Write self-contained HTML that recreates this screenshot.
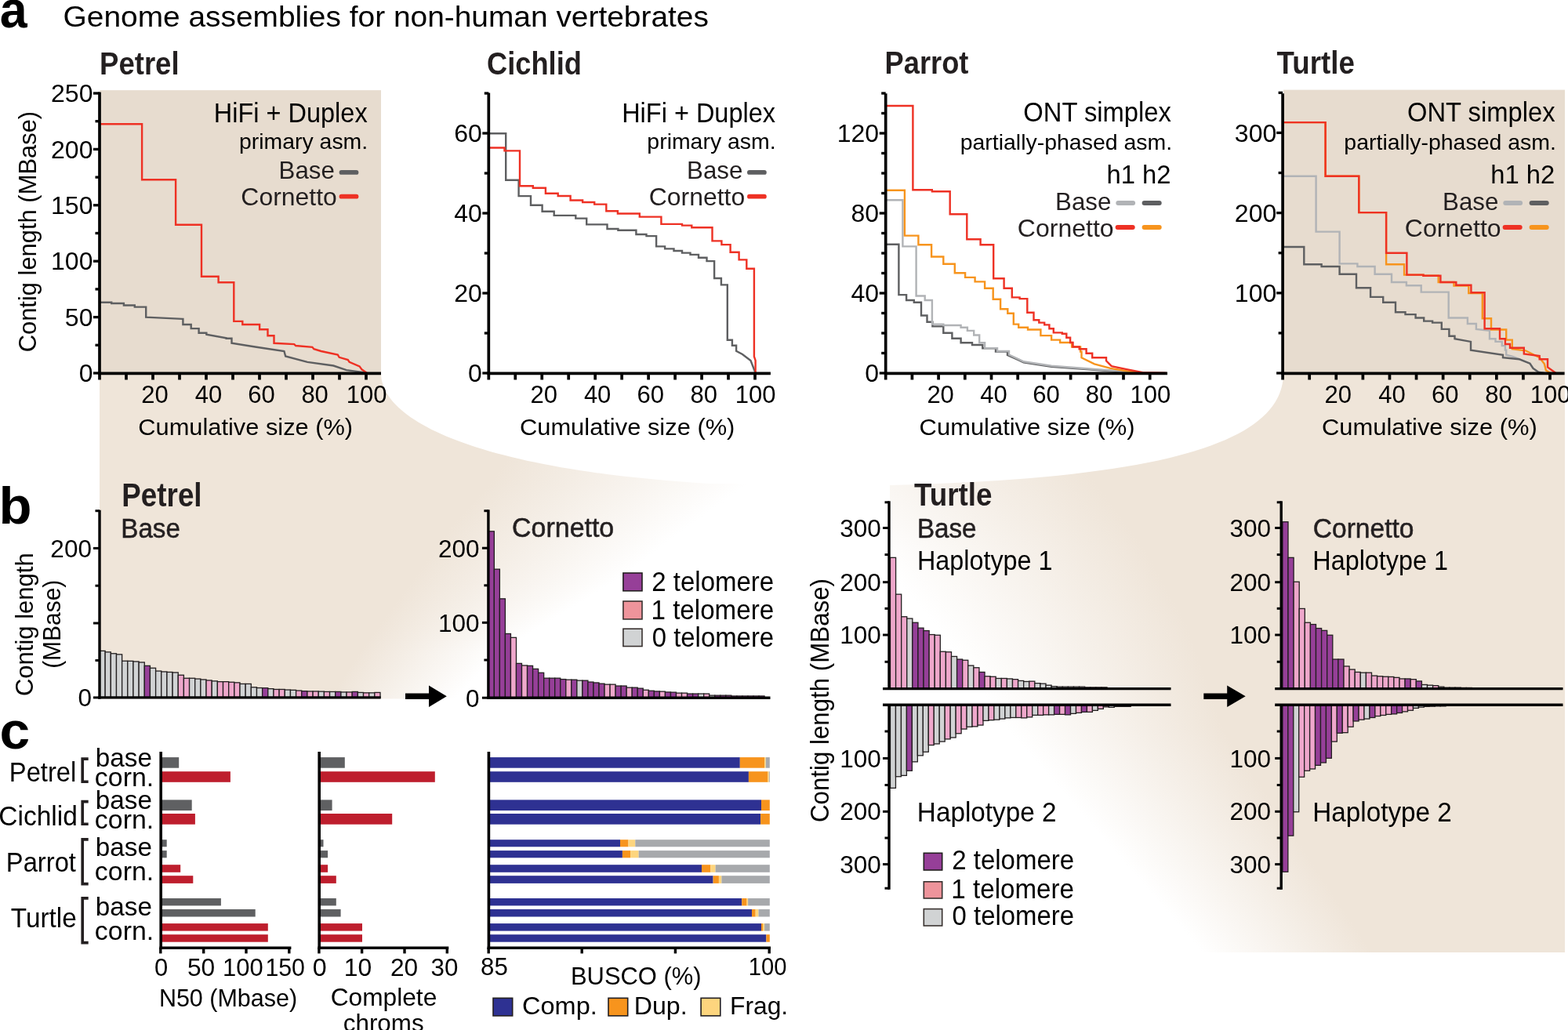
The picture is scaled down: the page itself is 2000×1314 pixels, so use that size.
<!DOCTYPE html>
<html><head><meta charset="utf-8"><title>Genome assemblies for non-human vertebrates</title>
<style>html,body{margin:0;padding:0;background:#fff;}svg{display:block;}</style></head>
<body><svg width="2000" height="1314" viewBox="0 0 2000 1314" font-family="'Liberation Sans', Arial, Helvetica, sans-serif">
<defs><linearGradient id="gL2W" x1="0" y1="0" x2="1" y2="0"><stop offset="0" stop-color="#EFE5D9"/><stop offset="1" stop-color="#EFE5D9" stop-opacity="0"/></linearGradient>
<linearGradient id="gW2L" x1="0" y1="0" x2="1" y2="0"><stop offset="0" stop-color="#EFE5D9" stop-opacity="0"/><stop offset="1" stop-color="#EFE5D9"/></linearGradient>
<clipPath id="cpP"><path d="M127 476H486C486 540 620 600 905 617H1010V891.5H127Z"/></clipPath>
<clipPath id="cpT"><path d="M1996 476H1637C1637 560 1500 610 1135 619V1215H1996Z"/></clipPath></defs>
<g clip-path="url(#cpP)" shape-rendering="crispEdges">
<rect x="127" y="476" width="591.99" height="3" fill="#EFE5D9"/>
<rect x="718.99" y="476" width="379.47" height="3" fill="url(#gL2W)"/>
<rect x="127" y="479" width="589.97" height="3" fill="#EFE5D9"/>
<rect x="716.97" y="479" width="378.4" height="3" fill="url(#gL2W)"/>
<rect x="127" y="482" width="587.95" height="3" fill="#EFE5D9"/>
<rect x="714.95" y="482" width="377.34" height="3" fill="url(#gL2W)"/>
<rect x="127" y="485" width="585.93" height="3" fill="#EFE5D9"/>
<rect x="712.93" y="485" width="376.28" height="3" fill="url(#gL2W)"/>
<rect x="127" y="488" width="583.9" height="3" fill="#EFE5D9"/>
<rect x="710.9" y="488" width="375.21" height="3" fill="url(#gL2W)"/>
<rect x="127" y="491" width="581.88" height="3" fill="#EFE5D9"/>
<rect x="708.88" y="491" width="374.15" height="3" fill="url(#gL2W)"/>
<rect x="127" y="494" width="579.86" height="3" fill="#EFE5D9"/>
<rect x="706.86" y="494" width="373.09" height="3" fill="url(#gL2W)"/>
<rect x="127" y="497" width="577.84" height="3" fill="#EFE5D9"/>
<rect x="704.84" y="497" width="372.02" height="3" fill="url(#gL2W)"/>
<rect x="127" y="500" width="575.82" height="3" fill="#EFE5D9"/>
<rect x="702.82" y="500" width="370.96" height="3" fill="url(#gL2W)"/>
<rect x="127" y="503" width="573.8" height="3" fill="#EFE5D9"/>
<rect x="700.8" y="503" width="369.89" height="3" fill="url(#gL2W)"/>
<rect x="127" y="506" width="571.78" height="3" fill="#EFE5D9"/>
<rect x="698.78" y="506" width="368.83" height="3" fill="url(#gL2W)"/>
<rect x="127" y="509" width="569.76" height="3" fill="#EFE5D9"/>
<rect x="696.76" y="509" width="367.77" height="3" fill="url(#gL2W)"/>
<rect x="127" y="512" width="567.73" height="3" fill="#EFE5D9"/>
<rect x="694.73" y="512" width="366.7" height="3" fill="url(#gL2W)"/>
<rect x="127" y="515" width="565.71" height="3" fill="#EFE5D9"/>
<rect x="692.71" y="515" width="365.64" height="3" fill="url(#gL2W)"/>
<rect x="127" y="518" width="563.69" height="3" fill="#EFE5D9"/>
<rect x="690.69" y="518" width="364.57" height="3" fill="url(#gL2W)"/>
<rect x="127" y="521" width="561.67" height="3" fill="#EFE5D9"/>
<rect x="688.67" y="521" width="363.51" height="3" fill="url(#gL2W)"/>
<rect x="127" y="524" width="559.65" height="3" fill="#EFE5D9"/>
<rect x="686.65" y="524" width="362.45" height="3" fill="url(#gL2W)"/>
<rect x="127" y="527" width="557.63" height="3" fill="#EFE5D9"/>
<rect x="684.63" y="527" width="361.38" height="3" fill="url(#gL2W)"/>
<rect x="127" y="530" width="555.61" height="3" fill="#EFE5D9"/>
<rect x="682.61" y="530" width="360.32" height="3" fill="url(#gL2W)"/>
<rect x="127" y="533" width="553.59" height="3" fill="#EFE5D9"/>
<rect x="680.59" y="533" width="359.26" height="3" fill="url(#gL2W)"/>
<rect x="127" y="536" width="551.56" height="3" fill="#EFE5D9"/>
<rect x="678.56" y="536" width="358.19" height="3" fill="url(#gL2W)"/>
<rect x="127" y="539" width="549.54" height="3" fill="#EFE5D9"/>
<rect x="676.54" y="539" width="357.13" height="3" fill="url(#gL2W)"/>
<rect x="127" y="542" width="547.52" height="3" fill="#EFE5D9"/>
<rect x="674.52" y="542" width="356.06" height="3" fill="url(#gL2W)"/>
<rect x="127" y="545" width="545.5" height="3" fill="#EFE5D9"/>
<rect x="672.5" y="545" width="355" height="3" fill="url(#gL2W)"/>
<rect x="127" y="548" width="543.48" height="3" fill="#EFE5D9"/>
<rect x="670.48" y="548" width="353.94" height="3" fill="url(#gL2W)"/>
<rect x="127" y="551" width="541.46" height="3" fill="#EFE5D9"/>
<rect x="668.46" y="551" width="352.87" height="3" fill="url(#gL2W)"/>
<rect x="127" y="554" width="539.44" height="3" fill="#EFE5D9"/>
<rect x="666.44" y="554" width="351.81" height="3" fill="url(#gL2W)"/>
<rect x="127" y="557" width="537.41" height="3" fill="#EFE5D9"/>
<rect x="664.41" y="557" width="350.74" height="3" fill="url(#gL2W)"/>
<rect x="127" y="560" width="535.39" height="3" fill="#EFE5D9"/>
<rect x="662.39" y="560" width="349.68" height="3" fill="url(#gL2W)"/>
<rect x="127" y="563" width="533.37" height="3" fill="#EFE5D9"/>
<rect x="660.37" y="563" width="348.62" height="3" fill="url(#gL2W)"/>
<rect x="127" y="566" width="531.35" height="3" fill="#EFE5D9"/>
<rect x="658.35" y="566" width="347.55" height="3" fill="url(#gL2W)"/>
<rect x="127" y="569" width="529.33" height="3" fill="#EFE5D9"/>
<rect x="656.33" y="569" width="346.49" height="3" fill="url(#gL2W)"/>
<rect x="127" y="572" width="527.31" height="3" fill="#EFE5D9"/>
<rect x="654.31" y="572" width="345.43" height="3" fill="url(#gL2W)"/>
<rect x="127" y="575" width="525.29" height="3" fill="#EFE5D9"/>
<rect x="652.29" y="575" width="344.36" height="3" fill="url(#gL2W)"/>
<rect x="127" y="578" width="523.27" height="3" fill="#EFE5D9"/>
<rect x="650.27" y="578" width="343.3" height="3" fill="url(#gL2W)"/>
<rect x="127" y="581" width="521.24" height="3" fill="#EFE5D9"/>
<rect x="648.24" y="581" width="342.23" height="3" fill="url(#gL2W)"/>
<rect x="127" y="584" width="519.22" height="3" fill="#EFE5D9"/>
<rect x="646.22" y="584" width="341.17" height="3" fill="url(#gL2W)"/>
<rect x="127" y="587" width="517.2" height="3" fill="#EFE5D9"/>
<rect x="644.2" y="587" width="340.11" height="3" fill="url(#gL2W)"/>
<rect x="127" y="590" width="515.18" height="3" fill="#EFE5D9"/>
<rect x="642.18" y="590" width="339.04" height="3" fill="url(#gL2W)"/>
<rect x="127" y="593" width="513.16" height="3" fill="#EFE5D9"/>
<rect x="640.16" y="593" width="337.98" height="3" fill="url(#gL2W)"/>
<rect x="127" y="596" width="511.14" height="3" fill="#EFE5D9"/>
<rect x="638.14" y="596" width="336.91" height="3" fill="url(#gL2W)"/>
<rect x="127" y="599" width="509.12" height="3" fill="#EFE5D9"/>
<rect x="636.12" y="599" width="335.85" height="3" fill="url(#gL2W)"/>
<rect x="127" y="602" width="507.1" height="3" fill="#EFE5D9"/>
<rect x="634.1" y="602" width="334.79" height="3" fill="url(#gL2W)"/>
<rect x="127" y="605" width="505.07" height="3" fill="#EFE5D9"/>
<rect x="632.07" y="605" width="333.72" height="3" fill="url(#gL2W)"/>
<rect x="127" y="608" width="503.05" height="3" fill="#EFE5D9"/>
<rect x="630.05" y="608" width="332.66" height="3" fill="url(#gL2W)"/>
<rect x="127" y="611" width="501.03" height="3" fill="#EFE5D9"/>
<rect x="628.03" y="611" width="331.6" height="3" fill="url(#gL2W)"/>
<rect x="127" y="614" width="499.01" height="3" fill="#EFE5D9"/>
<rect x="626.01" y="614" width="330.53" height="3" fill="url(#gL2W)"/>
<rect x="127" y="617" width="496.64" height="3" fill="#EFE5D9"/>
<rect x="623.64" y="617" width="329.26" height="3" fill="url(#gL2W)"/>
<rect x="127" y="620" width="493.91" height="3" fill="#EFE5D9"/>
<rect x="620.91" y="620" width="327.79" height="3" fill="url(#gL2W)"/>
<rect x="127" y="623" width="491.18" height="3" fill="#EFE5D9"/>
<rect x="618.18" y="623" width="326.32" height="3" fill="url(#gL2W)"/>
<rect x="127" y="626" width="488.45" height="3" fill="#EFE5D9"/>
<rect x="615.45" y="626" width="324.85" height="3" fill="url(#gL2W)"/>
<rect x="127" y="629" width="485.73" height="3" fill="#EFE5D9"/>
<rect x="612.73" y="629" width="323.37" height="3" fill="url(#gL2W)"/>
<rect x="127" y="632" width="483" height="3" fill="#EFE5D9"/>
<rect x="610" y="632" width="321.9" height="3" fill="url(#gL2W)"/>
<rect x="127" y="635" width="480.27" height="3" fill="#EFE5D9"/>
<rect x="607.27" y="635" width="320.43" height="3" fill="url(#gL2W)"/>
<rect x="127" y="638" width="477.55" height="3" fill="#EFE5D9"/>
<rect x="604.55" y="638" width="318.95" height="3" fill="url(#gL2W)"/>
<rect x="127" y="641" width="474.82" height="3" fill="#EFE5D9"/>
<rect x="601.82" y="641" width="317.48" height="3" fill="url(#gL2W)"/>
<rect x="127" y="644" width="472.09" height="3" fill="#EFE5D9"/>
<rect x="599.09" y="644" width="316.01" height="3" fill="url(#gL2W)"/>
<rect x="127" y="647" width="469.36" height="3" fill="#EFE5D9"/>
<rect x="596.36" y="647" width="314.54" height="3" fill="url(#gL2W)"/>
<rect x="127" y="650" width="466.64" height="3" fill="#EFE5D9"/>
<rect x="593.64" y="650" width="313.06" height="3" fill="url(#gL2W)"/>
<rect x="127" y="653" width="463.91" height="3" fill="#EFE5D9"/>
<rect x="590.91" y="653" width="311.59" height="3" fill="url(#gL2W)"/>
<rect x="127" y="656" width="461.18" height="3" fill="#EFE5D9"/>
<rect x="588.18" y="656" width="310.12" height="3" fill="url(#gL2W)"/>
<rect x="127" y="659" width="458.45" height="3" fill="#EFE5D9"/>
<rect x="585.45" y="659" width="308.65" height="3" fill="url(#gL2W)"/>
<rect x="127" y="662" width="455.73" height="3" fill="#EFE5D9"/>
<rect x="582.73" y="662" width="307.17" height="3" fill="url(#gL2W)"/>
<rect x="127" y="665" width="453" height="3" fill="#EFE5D9"/>
<rect x="580" y="665" width="305.7" height="3" fill="url(#gL2W)"/>
<rect x="127" y="668" width="450.27" height="3" fill="#EFE5D9"/>
<rect x="577.27" y="668" width="304.23" height="3" fill="url(#gL2W)"/>
<rect x="127" y="671" width="447.64" height="3" fill="#EFE5D9"/>
<rect x="574.64" y="671" width="302.7" height="3" fill="url(#gL2W)"/>
<rect x="127" y="674" width="445.5" height="3" fill="#EFE5D9"/>
<rect x="572.5" y="674" width="300.89" height="3" fill="url(#gL2W)"/>
<rect x="127" y="677" width="443.36" height="3" fill="#EFE5D9"/>
<rect x="570.36" y="677" width="299.08" height="3" fill="url(#gL2W)"/>
<rect x="127" y="680" width="441.21" height="3" fill="#EFE5D9"/>
<rect x="568.21" y="680" width="297.27" height="3" fill="url(#gL2W)"/>
<rect x="127" y="683" width="439.07" height="3" fill="#EFE5D9"/>
<rect x="566.07" y="683" width="295.46" height="3" fill="url(#gL2W)"/>
<rect x="127" y="686" width="436.93" height="3" fill="#EFE5D9"/>
<rect x="563.93" y="686" width="293.65" height="3" fill="url(#gL2W)"/>
<rect x="127" y="689" width="434.79" height="3" fill="#EFE5D9"/>
<rect x="561.79" y="689" width="291.84" height="3" fill="url(#gL2W)"/>
<rect x="127" y="692" width="432.64" height="3" fill="#EFE5D9"/>
<rect x="559.64" y="692" width="290.03" height="3" fill="url(#gL2W)"/>
<rect x="127" y="695" width="430.5" height="3" fill="#EFE5D9"/>
<rect x="557.5" y="695" width="288.22" height="3" fill="url(#gL2W)"/>
<rect x="127" y="698" width="428.36" height="3" fill="#EFE5D9"/>
<rect x="555.36" y="698" width="286.41" height="3" fill="url(#gL2W)"/>
<rect x="127" y="701" width="426.21" height="3" fill="#EFE5D9"/>
<rect x="553.21" y="701" width="284.6" height="3" fill="url(#gL2W)"/>
<rect x="127" y="704" width="424.07" height="3" fill="#EFE5D9"/>
<rect x="551.07" y="704" width="282.79" height="3" fill="url(#gL2W)"/>
<rect x="127" y="707" width="421.93" height="3" fill="#EFE5D9"/>
<rect x="548.93" y="707" width="280.98" height="3" fill="url(#gL2W)"/>
<rect x="127" y="710" width="419.79" height="3" fill="#EFE5D9"/>
<rect x="546.79" y="710" width="279.17" height="3" fill="url(#gL2W)"/>
<rect x="127" y="713" width="417.64" height="3" fill="#EFE5D9"/>
<rect x="544.64" y="713" width="277.37" height="3" fill="url(#gL2W)"/>
<rect x="127" y="716" width="415.5" height="3" fill="#EFE5D9"/>
<rect x="542.5" y="716" width="275.56" height="3" fill="url(#gL2W)"/>
<rect x="127" y="719" width="413.36" height="3" fill="#EFE5D9"/>
<rect x="540.36" y="719" width="273.75" height="3" fill="url(#gL2W)"/>
<rect x="127" y="722" width="411.21" height="3" fill="#EFE5D9"/>
<rect x="538.21" y="722" width="271.94" height="3" fill="url(#gL2W)"/>
<rect x="127" y="725" width="409.07" height="3" fill="#EFE5D9"/>
<rect x="536.07" y="725" width="270.13" height="3" fill="url(#gL2W)"/>
<rect x="127" y="728" width="406.93" height="3" fill="#EFE5D9"/>
<rect x="533.93" y="728" width="268.32" height="3" fill="url(#gL2W)"/>
<rect x="127" y="731" width="404.79" height="3" fill="#EFE5D9"/>
<rect x="531.79" y="731" width="266.51" height="3" fill="url(#gL2W)"/>
<rect x="127" y="734" width="402.63" height="3" fill="#EFE5D9"/>
<rect x="529.63" y="734" width="264.55" height="3" fill="url(#gL2W)"/>
<rect x="127" y="737" width="400.42" height="3" fill="#EFE5D9"/>
<rect x="527.42" y="737" width="261.87" height="3" fill="url(#gL2W)"/>
<rect x="127" y="740" width="398.21" height="3" fill="#EFE5D9"/>
<rect x="525.21" y="740" width="259.18" height="3" fill="url(#gL2W)"/>
<rect x="127" y="743" width="396" height="3" fill="#EFE5D9"/>
<rect x="523" y="743" width="256.5" height="3" fill="url(#gL2W)"/>
<rect x="127" y="746" width="393.79" height="3" fill="#EFE5D9"/>
<rect x="520.79" y="746" width="253.82" height="3" fill="url(#gL2W)"/>
<rect x="127" y="749" width="391.58" height="3" fill="#EFE5D9"/>
<rect x="518.58" y="749" width="251.13" height="3" fill="url(#gL2W)"/>
<rect x="127" y="752" width="389.37" height="3" fill="#EFE5D9"/>
<rect x="516.37" y="752" width="248.45" height="3" fill="url(#gL2W)"/>
<rect x="127" y="755" width="387.16" height="3" fill="#EFE5D9"/>
<rect x="514.16" y="755" width="245.76" height="3" fill="url(#gL2W)"/>
<rect x="127" y="758" width="384.95" height="3" fill="#EFE5D9"/>
<rect x="511.95" y="758" width="243.08" height="3" fill="url(#gL2W)"/>
<rect x="127" y="761" width="382.74" height="3" fill="#EFE5D9"/>
<rect x="509.74" y="761" width="240.39" height="3" fill="url(#gL2W)"/>
<rect x="127" y="764" width="380.53" height="3" fill="#EFE5D9"/>
<rect x="507.53" y="764" width="237.71" height="3" fill="url(#gL2W)"/>
<rect x="127" y="767" width="378.32" height="3" fill="#EFE5D9"/>
<rect x="505.32" y="767" width="235.03" height="3" fill="url(#gL2W)"/>
<rect x="127" y="770" width="376.11" height="3" fill="#EFE5D9"/>
<rect x="503.11" y="770" width="232.34" height="3" fill="url(#gL2W)"/>
<rect x="127" y="773" width="373.89" height="3" fill="#EFE5D9"/>
<rect x="500.89" y="773" width="229.66" height="3" fill="url(#gL2W)"/>
<rect x="127" y="776" width="371.68" height="3" fill="#EFE5D9"/>
<rect x="498.68" y="776" width="226.97" height="3" fill="url(#gL2W)"/>
<rect x="127" y="779" width="369.47" height="3" fill="#EFE5D9"/>
<rect x="496.47" y="779" width="224.29" height="3" fill="url(#gL2W)"/>
<rect x="127" y="782" width="367.26" height="3" fill="#EFE5D9"/>
<rect x="494.26" y="782" width="221.61" height="3" fill="url(#gL2W)"/>
<rect x="127" y="785" width="365.05" height="3" fill="#EFE5D9"/>
<rect x="492.05" y="785" width="218.92" height="3" fill="url(#gL2W)"/>
<rect x="127" y="788" width="362.84" height="3" fill="#EFE5D9"/>
<rect x="489.84" y="788" width="216.24" height="3" fill="url(#gL2W)"/>
<rect x="127" y="791" width="360.63" height="3" fill="#EFE5D9"/>
<rect x="487.63" y="791" width="213.55" height="3" fill="url(#gL2W)"/>
<rect x="127" y="794" width="358.42" height="3" fill="#EFE5D9"/>
<rect x="485.42" y="794" width="210.87" height="3" fill="url(#gL2W)"/>
<rect x="127" y="797" width="356.21" height="3" fill="#EFE5D9"/>
<rect x="483.21" y="797" width="208.18" height="3" fill="url(#gL2W)"/>
<rect x="127" y="800" width="354" height="3" fill="#EFE5D9"/>
<rect x="481" y="800" width="205.5" height="3" fill="url(#gL2W)"/>
<rect x="127" y="803" width="351.79" height="3" fill="#EFE5D9"/>
<rect x="478.79" y="803" width="202.82" height="3" fill="url(#gL2W)"/>
<rect x="127" y="806" width="349.58" height="3" fill="#EFE5D9"/>
<rect x="476.58" y="806" width="200.13" height="3" fill="url(#gL2W)"/>
<rect x="127" y="809" width="347.37" height="3" fill="#EFE5D9"/>
<rect x="474.37" y="809" width="197.45" height="3" fill="url(#gL2W)"/>
<rect x="127" y="812" width="345.16" height="3" fill="#EFE5D9"/>
<rect x="472.16" y="812" width="194.76" height="3" fill="url(#gL2W)"/>
<rect x="127" y="815" width="342.95" height="3" fill="#EFE5D9"/>
<rect x="469.95" y="815" width="192.08" height="3" fill="url(#gL2W)"/>
<rect x="127" y="818" width="340.74" height="3" fill="#EFE5D9"/>
<rect x="467.74" y="818" width="189.39" height="3" fill="url(#gL2W)"/>
<rect x="127" y="821" width="338.53" height="3" fill="#EFE5D9"/>
<rect x="465.53" y="821" width="186.71" height="3" fill="url(#gL2W)"/>
<rect x="127" y="824" width="336.32" height="3" fill="#EFE5D9"/>
<rect x="463.32" y="824" width="184.03" height="3" fill="url(#gL2W)"/>
<rect x="127" y="827" width="334.11" height="3" fill="#EFE5D9"/>
<rect x="461.11" y="827" width="181.34" height="3" fill="url(#gL2W)"/>
<rect x="127" y="830" width="332.03" height="3" fill="#EFE5D9"/>
<rect x="459.03" y="830" width="179.52" height="3" fill="url(#gL2W)"/>
<rect x="127" y="833" width="330.1" height="3" fill="#EFE5D9"/>
<rect x="457.1" y="833" width="178.55" height="3" fill="url(#gL2W)"/>
<rect x="127" y="836" width="328.16" height="3" fill="#EFE5D9"/>
<rect x="455.16" y="836" width="177.58" height="3" fill="url(#gL2W)"/>
<rect x="127" y="839" width="326.23" height="3" fill="#EFE5D9"/>
<rect x="453.23" y="839" width="176.61" height="3" fill="url(#gL2W)"/>
<rect x="127" y="842" width="324.29" height="3" fill="#EFE5D9"/>
<rect x="451.29" y="842" width="175.65" height="3" fill="url(#gL2W)"/>
<rect x="127" y="845" width="322.35" height="3" fill="#EFE5D9"/>
<rect x="449.35" y="845" width="174.68" height="3" fill="url(#gL2W)"/>
<rect x="127" y="848" width="320.42" height="3" fill="#EFE5D9"/>
<rect x="447.42" y="848" width="173.71" height="3" fill="url(#gL2W)"/>
<rect x="127" y="851" width="318.48" height="3" fill="#EFE5D9"/>
<rect x="445.48" y="851" width="172.74" height="3" fill="url(#gL2W)"/>
<rect x="127" y="854" width="316.55" height="3" fill="#EFE5D9"/>
<rect x="443.55" y="854" width="171.77" height="3" fill="url(#gL2W)"/>
<rect x="127" y="857" width="314.61" height="3" fill="#EFE5D9"/>
<rect x="441.61" y="857" width="170.81" height="3" fill="url(#gL2W)"/>
<rect x="127" y="860" width="312.68" height="3" fill="#EFE5D9"/>
<rect x="439.68" y="860" width="169.84" height="3" fill="url(#gL2W)"/>
<rect x="127" y="863" width="310.74" height="3" fill="#EFE5D9"/>
<rect x="437.74" y="863" width="168.87" height="3" fill="url(#gL2W)"/>
<rect x="127" y="866" width="308.81" height="3" fill="#EFE5D9"/>
<rect x="435.81" y="866" width="167.9" height="3" fill="url(#gL2W)"/>
<rect x="127" y="869" width="306.87" height="3" fill="#EFE5D9"/>
<rect x="433.87" y="869" width="166.94" height="3" fill="url(#gL2W)"/>
<rect x="127" y="872" width="304.94" height="3" fill="#EFE5D9"/>
<rect x="431.94" y="872" width="165.97" height="3" fill="url(#gL2W)"/>
<rect x="127" y="875" width="303" height="3" fill="#EFE5D9"/>
<rect x="430" y="875" width="165" height="3" fill="url(#gL2W)"/>
<rect x="127" y="878" width="301.06" height="3" fill="#EFE5D9"/>
<rect x="428.06" y="878" width="164.03" height="3" fill="url(#gL2W)"/>
<rect x="127" y="881" width="299.13" height="3" fill="#EFE5D9"/>
<rect x="426.13" y="881" width="163.06" height="3" fill="url(#gL2W)"/>
<rect x="127" y="884" width="297.19" height="3" fill="#EFE5D9"/>
<rect x="424.19" y="884" width="162.1" height="3" fill="url(#gL2W)"/>
<rect x="127" y="887" width="295.26" height="3" fill="#EFE5D9"/>
<rect x="422.26" y="887" width="161.13" height="3" fill="url(#gL2W)"/>
<rect x="127" y="890" width="293.32" height="3" fill="#EFE5D9"/>
<rect x="420.32" y="890" width="160.16" height="3" fill="url(#gL2W)"/>
</g>
<g clip-path="url(#cpT)" shape-rendering="crispEdges">
<rect x="901.05" y="476" width="400" height="3" fill="url(#gW2L)"/>
<rect x="1301.05" y="476" width="694.95" height="3" fill="#EFE5D9"/>
<rect x="903.15" y="479" width="400" height="3" fill="url(#gW2L)"/>
<rect x="1303.15" y="479" width="692.85" height="3" fill="#EFE5D9"/>
<rect x="905.24" y="482" width="400" height="3" fill="url(#gW2L)"/>
<rect x="1305.24" y="482" width="690.76" height="3" fill="#EFE5D9"/>
<rect x="907.34" y="485" width="400" height="3" fill="url(#gW2L)"/>
<rect x="1307.34" y="485" width="688.66" height="3" fill="#EFE5D9"/>
<rect x="909.44" y="488" width="400" height="3" fill="url(#gW2L)"/>
<rect x="1309.44" y="488" width="686.56" height="3" fill="#EFE5D9"/>
<rect x="911.54" y="491" width="400" height="3" fill="url(#gW2L)"/>
<rect x="1311.54" y="491" width="684.46" height="3" fill="#EFE5D9"/>
<rect x="913.64" y="494" width="400" height="3" fill="url(#gW2L)"/>
<rect x="1313.64" y="494" width="682.36" height="3" fill="#EFE5D9"/>
<rect x="915.73" y="497" width="400" height="3" fill="url(#gW2L)"/>
<rect x="1315.73" y="497" width="680.27" height="3" fill="#EFE5D9"/>
<rect x="917.83" y="500" width="400" height="3" fill="url(#gW2L)"/>
<rect x="1317.83" y="500" width="678.17" height="3" fill="#EFE5D9"/>
<rect x="919.93" y="503" width="400" height="3" fill="url(#gW2L)"/>
<rect x="1319.93" y="503" width="676.07" height="3" fill="#EFE5D9"/>
<rect x="922.03" y="506" width="400" height="3" fill="url(#gW2L)"/>
<rect x="1322.03" y="506" width="673.97" height="3" fill="#EFE5D9"/>
<rect x="924.13" y="509" width="400" height="3" fill="url(#gW2L)"/>
<rect x="1324.13" y="509" width="671.87" height="3" fill="#EFE5D9"/>
<rect x="926.22" y="512" width="400" height="3" fill="url(#gW2L)"/>
<rect x="1326.22" y="512" width="669.78" height="3" fill="#EFE5D9"/>
<rect x="928.32" y="515" width="400" height="3" fill="url(#gW2L)"/>
<rect x="1328.32" y="515" width="667.68" height="3" fill="#EFE5D9"/>
<rect x="930.42" y="518" width="400" height="3" fill="url(#gW2L)"/>
<rect x="1330.42" y="518" width="665.58" height="3" fill="#EFE5D9"/>
<rect x="932.52" y="521" width="400" height="3" fill="url(#gW2L)"/>
<rect x="1332.52" y="521" width="663.48" height="3" fill="#EFE5D9"/>
<rect x="934.62" y="524" width="400" height="3" fill="url(#gW2L)"/>
<rect x="1334.62" y="524" width="661.38" height="3" fill="#EFE5D9"/>
<rect x="936.71" y="527" width="400" height="3" fill="url(#gW2L)"/>
<rect x="1336.71" y="527" width="659.29" height="3" fill="#EFE5D9"/>
<rect x="938.81" y="530" width="400" height="3" fill="url(#gW2L)"/>
<rect x="1338.81" y="530" width="657.19" height="3" fill="#EFE5D9"/>
<rect x="940.91" y="533" width="400" height="3" fill="url(#gW2L)"/>
<rect x="1340.91" y="533" width="655.09" height="3" fill="#EFE5D9"/>
<rect x="943.01" y="536" width="400" height="3" fill="url(#gW2L)"/>
<rect x="1343.01" y="536" width="652.99" height="3" fill="#EFE5D9"/>
<rect x="945.1" y="539" width="400" height="3" fill="url(#gW2L)"/>
<rect x="1345.1" y="539" width="650.9" height="3" fill="#EFE5D9"/>
<rect x="947.2" y="542" width="400" height="3" fill="url(#gW2L)"/>
<rect x="1347.2" y="542" width="648.8" height="3" fill="#EFE5D9"/>
<rect x="949.3" y="545" width="400" height="3" fill="url(#gW2L)"/>
<rect x="1349.3" y="545" width="646.7" height="3" fill="#EFE5D9"/>
<rect x="951.4" y="548" width="400" height="3" fill="url(#gW2L)"/>
<rect x="1351.4" y="548" width="644.6" height="3" fill="#EFE5D9"/>
<rect x="953.5" y="551" width="400" height="3" fill="url(#gW2L)"/>
<rect x="1353.5" y="551" width="642.5" height="3" fill="#EFE5D9"/>
<rect x="955.59" y="554" width="400" height="3" fill="url(#gW2L)"/>
<rect x="1355.59" y="554" width="640.41" height="3" fill="#EFE5D9"/>
<rect x="957.69" y="557" width="400" height="3" fill="url(#gW2L)"/>
<rect x="1357.69" y="557" width="638.31" height="3" fill="#EFE5D9"/>
<rect x="959.79" y="560" width="400" height="3" fill="url(#gW2L)"/>
<rect x="1359.79" y="560" width="636.21" height="3" fill="#EFE5D9"/>
<rect x="961.89" y="563" width="400" height="3" fill="url(#gW2L)"/>
<rect x="1361.89" y="563" width="634.11" height="3" fill="#EFE5D9"/>
<rect x="963.99" y="566" width="400" height="3" fill="url(#gW2L)"/>
<rect x="1363.99" y="566" width="632.01" height="3" fill="#EFE5D9"/>
<rect x="966.08" y="569" width="400" height="3" fill="url(#gW2L)"/>
<rect x="1366.08" y="569" width="629.92" height="3" fill="#EFE5D9"/>
<rect x="968.18" y="572" width="400" height="3" fill="url(#gW2L)"/>
<rect x="1368.18" y="572" width="627.82" height="3" fill="#EFE5D9"/>
<rect x="970.28" y="575" width="400" height="3" fill="url(#gW2L)"/>
<rect x="1370.28" y="575" width="625.72" height="3" fill="#EFE5D9"/>
<rect x="972.38" y="578" width="400" height="3" fill="url(#gW2L)"/>
<rect x="1372.38" y="578" width="623.62" height="3" fill="#EFE5D9"/>
<rect x="974.48" y="581" width="400" height="3" fill="url(#gW2L)"/>
<rect x="1374.48" y="581" width="621.52" height="3" fill="#EFE5D9"/>
<rect x="976.57" y="584" width="400" height="3" fill="url(#gW2L)"/>
<rect x="1376.57" y="584" width="619.43" height="3" fill="#EFE5D9"/>
<rect x="978.67" y="587" width="400" height="3" fill="url(#gW2L)"/>
<rect x="1378.67" y="587" width="617.33" height="3" fill="#EFE5D9"/>
<rect x="980.77" y="590" width="400" height="3" fill="url(#gW2L)"/>
<rect x="1380.77" y="590" width="615.23" height="3" fill="#EFE5D9"/>
<rect x="982.87" y="593" width="400" height="3" fill="url(#gW2L)"/>
<rect x="1382.87" y="593" width="613.13" height="3" fill="#EFE5D9"/>
<rect x="984.97" y="596" width="400" height="3" fill="url(#gW2L)"/>
<rect x="1384.97" y="596" width="611.03" height="3" fill="#EFE5D9"/>
<rect x="987.06" y="599" width="400" height="3" fill="url(#gW2L)"/>
<rect x="1387.06" y="599" width="608.94" height="3" fill="#EFE5D9"/>
<rect x="989.16" y="602" width="400" height="3" fill="url(#gW2L)"/>
<rect x="1389.16" y="602" width="606.84" height="3" fill="#EFE5D9"/>
<rect x="991.26" y="605" width="400" height="3" fill="url(#gW2L)"/>
<rect x="1391.26" y="605" width="604.74" height="3" fill="#EFE5D9"/>
<rect x="993.36" y="608" width="400" height="3" fill="url(#gW2L)"/>
<rect x="1393.36" y="608" width="602.64" height="3" fill="#EFE5D9"/>
<rect x="995.45" y="611" width="400" height="3" fill="url(#gW2L)"/>
<rect x="1395.45" y="611" width="600.55" height="3" fill="#EFE5D9"/>
<rect x="997.55" y="614" width="400" height="3" fill="url(#gW2L)"/>
<rect x="1397.55" y="614" width="598.45" height="3" fill="#EFE5D9"/>
<rect x="999.65" y="617" width="400" height="3" fill="url(#gW2L)"/>
<rect x="1399.65" y="617" width="596.35" height="3" fill="#EFE5D9"/>
<rect x="1003.4" y="620" width="398.46" height="3" fill="url(#gW2L)"/>
<rect x="1401.85" y="620" width="594.15" height="3" fill="#EFE5D9"/>
<rect x="1007.47" y="623" width="396.6" height="3" fill="url(#gW2L)"/>
<rect x="1404.07" y="623" width="591.93" height="3" fill="#EFE5D9"/>
<rect x="1011.54" y="626" width="394.75" height="3" fill="url(#gW2L)"/>
<rect x="1406.3" y="626" width="589.7" height="3" fill="#EFE5D9"/>
<rect x="1015.62" y="629" width="392.9" height="3" fill="url(#gW2L)"/>
<rect x="1408.52" y="629" width="587.48" height="3" fill="#EFE5D9"/>
<rect x="1019.69" y="632" width="391.05" height="3" fill="url(#gW2L)"/>
<rect x="1410.74" y="632" width="585.26" height="3" fill="#EFE5D9"/>
<rect x="1023.77" y="635" width="389.2" height="3" fill="url(#gW2L)"/>
<rect x="1412.96" y="635" width="583.04" height="3" fill="#EFE5D9"/>
<rect x="1027.84" y="638" width="387.35" height="3" fill="url(#gW2L)"/>
<rect x="1415.19" y="638" width="580.81" height="3" fill="#EFE5D9"/>
<rect x="1031.91" y="641" width="385.49" height="3" fill="url(#gW2L)"/>
<rect x="1417.41" y="641" width="578.59" height="3" fill="#EFE5D9"/>
<rect x="1035.99" y="644" width="383.64" height="3" fill="url(#gW2L)"/>
<rect x="1419.63" y="644" width="576.37" height="3" fill="#EFE5D9"/>
<rect x="1040.06" y="647" width="381.79" height="3" fill="url(#gW2L)"/>
<rect x="1421.85" y="647" width="574.15" height="3" fill="#EFE5D9"/>
<rect x="1044.14" y="650" width="379.94" height="3" fill="url(#gW2L)"/>
<rect x="1424.07" y="650" width="571.93" height="3" fill="#EFE5D9"/>
<rect x="1048.21" y="653" width="378.09" height="3" fill="url(#gW2L)"/>
<rect x="1426.3" y="653" width="569.7" height="3" fill="#EFE5D9"/>
<rect x="1052.28" y="656" width="376.23" height="3" fill="url(#gW2L)"/>
<rect x="1428.52" y="656" width="567.48" height="3" fill="#EFE5D9"/>
<rect x="1056.36" y="659" width="374.38" height="3" fill="url(#gW2L)"/>
<rect x="1430.74" y="659" width="565.26" height="3" fill="#EFE5D9"/>
<rect x="1060.43" y="662" width="372.53" height="3" fill="url(#gW2L)"/>
<rect x="1432.96" y="662" width="563.04" height="3" fill="#EFE5D9"/>
<rect x="1064.51" y="665" width="370.68" height="3" fill="url(#gW2L)"/>
<rect x="1435.19" y="665" width="560.81" height="3" fill="#EFE5D9"/>
<rect x="1068.58" y="668" width="368.83" height="3" fill="url(#gW2L)"/>
<rect x="1437.41" y="668" width="558.59" height="3" fill="#EFE5D9"/>
<rect x="1072.65" y="671" width="366.98" height="3" fill="url(#gW2L)"/>
<rect x="1439.63" y="671" width="556.37" height="3" fill="#EFE5D9"/>
<rect x="1076.73" y="674" width="365.12" height="3" fill="url(#gW2L)"/>
<rect x="1441.85" y="674" width="554.15" height="3" fill="#EFE5D9"/>
<rect x="1080.8" y="677" width="363.27" height="3" fill="url(#gW2L)"/>
<rect x="1444.07" y="677" width="551.93" height="3" fill="#EFE5D9"/>
<rect x="1084.88" y="680" width="361.42" height="3" fill="url(#gW2L)"/>
<rect x="1446.3" y="680" width="549.7" height="3" fill="#EFE5D9"/>
<rect x="1088.95" y="683" width="359.57" height="3" fill="url(#gW2L)"/>
<rect x="1448.52" y="683" width="547.48" height="3" fill="#EFE5D9"/>
<rect x="1093.02" y="686" width="357.72" height="3" fill="url(#gW2L)"/>
<rect x="1450.74" y="686" width="545.26" height="3" fill="#EFE5D9"/>
<rect x="1097.1" y="689" width="355.86" height="3" fill="url(#gW2L)"/>
<rect x="1452.96" y="689" width="543.04" height="3" fill="#EFE5D9"/>
<rect x="1101.17" y="692" width="354.01" height="3" fill="url(#gW2L)"/>
<rect x="1455.19" y="692" width="540.81" height="3" fill="#EFE5D9"/>
<rect x="1105.25" y="695" width="352.16" height="3" fill="url(#gW2L)"/>
<rect x="1457.41" y="695" width="538.59" height="3" fill="#EFE5D9"/>
<rect x="1109.32" y="698" width="350.31" height="3" fill="url(#gW2L)"/>
<rect x="1459.63" y="698" width="536.37" height="3" fill="#EFE5D9"/>
<rect x="1112.12" y="701" width="349.25" height="3" fill="url(#gW2L)"/>
<rect x="1461.38" y="701" width="534.62" height="3" fill="#EFE5D9"/>
<rect x="1114.67" y="704" width="348.35" height="3" fill="url(#gW2L)"/>
<rect x="1463.03" y="704" width="532.97" height="3" fill="#EFE5D9"/>
<rect x="1117.22" y="707" width="347.45" height="3" fill="url(#gW2L)"/>
<rect x="1464.67" y="707" width="531.33" height="3" fill="#EFE5D9"/>
<rect x="1119.78" y="710" width="346.55" height="3" fill="url(#gW2L)"/>
<rect x="1466.33" y="710" width="529.67" height="3" fill="#EFE5D9"/>
<rect x="1122.33" y="713" width="345.65" height="3" fill="url(#gW2L)"/>
<rect x="1467.97" y="713" width="528.03" height="3" fill="#EFE5D9"/>
<rect x="1124.88" y="716" width="344.75" height="3" fill="url(#gW2L)"/>
<rect x="1469.62" y="716" width="526.38" height="3" fill="#EFE5D9"/>
<rect x="1127.42" y="719" width="343.85" height="3" fill="url(#gW2L)"/>
<rect x="1471.28" y="719" width="524.72" height="3" fill="#EFE5D9"/>
<rect x="1129.97" y="722" width="342.95" height="3" fill="url(#gW2L)"/>
<rect x="1472.92" y="722" width="523.08" height="3" fill="#EFE5D9"/>
<rect x="1132.53" y="725" width="342.05" height="3" fill="url(#gW2L)"/>
<rect x="1474.58" y="725" width="521.42" height="3" fill="#EFE5D9"/>
<rect x="1135.08" y="728" width="341.15" height="3" fill="url(#gW2L)"/>
<rect x="1476.22" y="728" width="519.78" height="3" fill="#EFE5D9"/>
<rect x="1137.62" y="731" width="340.25" height="3" fill="url(#gW2L)"/>
<rect x="1477.88" y="731" width="518.12" height="3" fill="#EFE5D9"/>
<rect x="1140.17" y="734" width="339.35" height="3" fill="url(#gW2L)"/>
<rect x="1479.53" y="734" width="516.47" height="3" fill="#EFE5D9"/>
<rect x="1142.72" y="737" width="338.45" height="3" fill="url(#gW2L)"/>
<rect x="1481.17" y="737" width="514.83" height="3" fill="#EFE5D9"/>
<rect x="1145.28" y="740" width="337.55" height="3" fill="url(#gW2L)"/>
<rect x="1482.83" y="740" width="513.17" height="3" fill="#EFE5D9"/>
<rect x="1147.83" y="743" width="336.65" height="3" fill="url(#gW2L)"/>
<rect x="1484.47" y="743" width="511.53" height="3" fill="#EFE5D9"/>
<rect x="1150.38" y="746" width="335.75" height="3" fill="url(#gW2L)"/>
<rect x="1486.12" y="746" width="509.88" height="3" fill="#EFE5D9"/>
<rect x="1152.92" y="749" width="334.85" height="3" fill="url(#gW2L)"/>
<rect x="1487.78" y="749" width="508.22" height="3" fill="#EFE5D9"/>
<rect x="1155.47" y="752" width="333.95" height="3" fill="url(#gW2L)"/>
<rect x="1489.42" y="752" width="506.58" height="3" fill="#EFE5D9"/>
<rect x="1158.03" y="755" width="333.05" height="3" fill="url(#gW2L)"/>
<rect x="1491.08" y="755" width="504.92" height="3" fill="#EFE5D9"/>
<rect x="1160.58" y="758" width="332.15" height="3" fill="url(#gW2L)"/>
<rect x="1492.72" y="758" width="503.28" height="3" fill="#EFE5D9"/>
<rect x="1163.12" y="761" width="331.25" height="3" fill="url(#gW2L)"/>
<rect x="1494.38" y="761" width="501.62" height="3" fill="#EFE5D9"/>
<rect x="1165.67" y="764" width="330.35" height="3" fill="url(#gW2L)"/>
<rect x="1496.03" y="764" width="499.97" height="3" fill="#EFE5D9"/>
<rect x="1168.22" y="767" width="329.45" height="3" fill="url(#gW2L)"/>
<rect x="1497.67" y="767" width="498.33" height="3" fill="#EFE5D9"/>
<rect x="1170.78" y="770" width="328.55" height="3" fill="url(#gW2L)"/>
<rect x="1499.33" y="770" width="496.67" height="3" fill="#EFE5D9"/>
<rect x="1173.33" y="773" width="327.65" height="3" fill="url(#gW2L)"/>
<rect x="1500.97" y="773" width="495.03" height="3" fill="#EFE5D9"/>
<rect x="1175.88" y="776" width="326.75" height="3" fill="url(#gW2L)"/>
<rect x="1502.62" y="776" width="493.38" height="3" fill="#EFE5D9"/>
<rect x="1178.42" y="779" width="325.85" height="3" fill="url(#gW2L)"/>
<rect x="1504.28" y="779" width="491.72" height="3" fill="#EFE5D9"/>
<rect x="1180.97" y="782" width="324.95" height="3" fill="url(#gW2L)"/>
<rect x="1505.92" y="782" width="490.08" height="3" fill="#EFE5D9"/>
<rect x="1183.53" y="785" width="324.05" height="3" fill="url(#gW2L)"/>
<rect x="1507.58" y="785" width="488.42" height="3" fill="#EFE5D9"/>
<rect x="1186.08" y="788" width="323.15" height="3" fill="url(#gW2L)"/>
<rect x="1509.22" y="788" width="486.78" height="3" fill="#EFE5D9"/>
<rect x="1188.62" y="791" width="322.25" height="3" fill="url(#gW2L)"/>
<rect x="1510.88" y="791" width="485.12" height="3" fill="#EFE5D9"/>
<rect x="1191.17" y="794" width="321.35" height="3" fill="url(#gW2L)"/>
<rect x="1512.53" y="794" width="483.47" height="3" fill="#EFE5D9"/>
<rect x="1193.72" y="797" width="320.45" height="3" fill="url(#gW2L)"/>
<rect x="1514.17" y="797" width="481.83" height="3" fill="#EFE5D9"/>
<rect x="1196.04" y="800" width="319.48" height="3" fill="url(#gW2L)"/>
<rect x="1515.52" y="800" width="480.48" height="3" fill="#EFE5D9"/>
<rect x="1198.12" y="803" width="318.44" height="3" fill="url(#gW2L)"/>
<rect x="1516.56" y="803" width="479.44" height="3" fill="#EFE5D9"/>
<rect x="1200.19" y="806" width="317.4" height="3" fill="url(#gW2L)"/>
<rect x="1517.6" y="806" width="478.4" height="3" fill="#EFE5D9"/>
<rect x="1202.27" y="809" width="316.37" height="3" fill="url(#gW2L)"/>
<rect x="1518.63" y="809" width="477.37" height="3" fill="#EFE5D9"/>
<rect x="1204.35" y="812" width="315.33" height="3" fill="url(#gW2L)"/>
<rect x="1519.67" y="812" width="476.33" height="3" fill="#EFE5D9"/>
<rect x="1206.42" y="815" width="314.29" height="3" fill="url(#gW2L)"/>
<rect x="1520.71" y="815" width="475.29" height="3" fill="#EFE5D9"/>
<rect x="1208.5" y="818" width="313.25" height="3" fill="url(#gW2L)"/>
<rect x="1521.75" y="818" width="474.25" height="3" fill="#EFE5D9"/>
<rect x="1210.58" y="821" width="312.21" height="3" fill="url(#gW2L)"/>
<rect x="1522.79" y="821" width="473.21" height="3" fill="#EFE5D9"/>
<rect x="1212.65" y="824" width="311.17" height="3" fill="url(#gW2L)"/>
<rect x="1523.83" y="824" width="472.17" height="3" fill="#EFE5D9"/>
<rect x="1214.73" y="827" width="310.13" height="3" fill="url(#gW2L)"/>
<rect x="1524.87" y="827" width="471.13" height="3" fill="#EFE5D9"/>
<rect x="1216.81" y="830" width="309.1" height="3" fill="url(#gW2L)"/>
<rect x="1525.9" y="830" width="470.1" height="3" fill="#EFE5D9"/>
<rect x="1218.88" y="833" width="308.06" height="3" fill="url(#gW2L)"/>
<rect x="1526.94" y="833" width="469.06" height="3" fill="#EFE5D9"/>
<rect x="1220.96" y="836" width="307.02" height="3" fill="url(#gW2L)"/>
<rect x="1527.98" y="836" width="468.02" height="3" fill="#EFE5D9"/>
<rect x="1223.04" y="839" width="305.98" height="3" fill="url(#gW2L)"/>
<rect x="1529.02" y="839" width="466.98" height="3" fill="#EFE5D9"/>
<rect x="1225.12" y="842" width="304.94" height="3" fill="url(#gW2L)"/>
<rect x="1530.06" y="842" width="465.94" height="3" fill="#EFE5D9"/>
<rect x="1227.19" y="845" width="303.9" height="3" fill="url(#gW2L)"/>
<rect x="1531.1" y="845" width="464.9" height="3" fill="#EFE5D9"/>
<rect x="1229.27" y="848" width="302.87" height="3" fill="url(#gW2L)"/>
<rect x="1532.13" y="848" width="463.87" height="3" fill="#EFE5D9"/>
<rect x="1231.35" y="851" width="301.83" height="3" fill="url(#gW2L)"/>
<rect x="1533.17" y="851" width="462.83" height="3" fill="#EFE5D9"/>
<rect x="1233.42" y="854" width="300.79" height="3" fill="url(#gW2L)"/>
<rect x="1534.21" y="854" width="461.79" height="3" fill="#EFE5D9"/>
<rect x="1235.5" y="857" width="299.75" height="3" fill="url(#gW2L)"/>
<rect x="1535.25" y="857" width="460.75" height="3" fill="#EFE5D9"/>
<rect x="1237.58" y="860" width="298.71" height="3" fill="url(#gW2L)"/>
<rect x="1536.29" y="860" width="459.71" height="3" fill="#EFE5D9"/>
<rect x="1239.65" y="863" width="297.67" height="3" fill="url(#gW2L)"/>
<rect x="1537.33" y="863" width="458.67" height="3" fill="#EFE5D9"/>
<rect x="1241.73" y="866" width="296.63" height="3" fill="url(#gW2L)"/>
<rect x="1538.37" y="866" width="457.63" height="3" fill="#EFE5D9"/>
<rect x="1243.81" y="869" width="295.6" height="3" fill="url(#gW2L)"/>
<rect x="1539.4" y="869" width="456.6" height="3" fill="#EFE5D9"/>
<rect x="1245.88" y="872" width="294.56" height="3" fill="url(#gW2L)"/>
<rect x="1540.44" y="872" width="455.56" height="3" fill="#EFE5D9"/>
<rect x="1247.96" y="875" width="293.52" height="3" fill="url(#gW2L)"/>
<rect x="1541.48" y="875" width="454.52" height="3" fill="#EFE5D9"/>
<rect x="1250.04" y="878" width="292.48" height="3" fill="url(#gW2L)"/>
<rect x="1542.52" y="878" width="453.48" height="3" fill="#EFE5D9"/>
<rect x="1252.12" y="881" width="291.44" height="3" fill="url(#gW2L)"/>
<rect x="1543.56" y="881" width="452.44" height="3" fill="#EFE5D9"/>
<rect x="1254.19" y="884" width="290.4" height="3" fill="url(#gW2L)"/>
<rect x="1544.6" y="884" width="451.4" height="3" fill="#EFE5D9"/>
<rect x="1256.27" y="887" width="289.37" height="3" fill="url(#gW2L)"/>
<rect x="1545.63" y="887" width="450.37" height="3" fill="#EFE5D9"/>
<rect x="1258.35" y="890" width="288.33" height="3" fill="url(#gW2L)"/>
<rect x="1546.67" y="890" width="449.33" height="3" fill="#EFE5D9"/>
<rect x="1260.42" y="893" width="287.29" height="3" fill="url(#gW2L)"/>
<rect x="1547.71" y="893" width="448.29" height="3" fill="#EFE5D9"/>
<rect x="1262.5" y="896" width="286.25" height="3" fill="url(#gW2L)"/>
<rect x="1548.75" y="896" width="447.25" height="3" fill="#EFE5D9"/>
<rect x="1264.58" y="899" width="285.21" height="3" fill="url(#gW2L)"/>
<rect x="1549.79" y="899" width="446.21" height="3" fill="#EFE5D9"/>
<rect x="1266.65" y="902" width="284.17" height="3" fill="url(#gW2L)"/>
<rect x="1550.83" y="902" width="445.17" height="3" fill="#EFE5D9"/>
<rect x="1268.73" y="905" width="283.13" height="3" fill="url(#gW2L)"/>
<rect x="1551.87" y="905" width="444.13" height="3" fill="#EFE5D9"/>
<rect x="1270.81" y="908" width="282.1" height="3" fill="url(#gW2L)"/>
<rect x="1552.9" y="908" width="443.1" height="3" fill="#EFE5D9"/>
<rect x="1272.88" y="911" width="281.06" height="3" fill="url(#gW2L)"/>
<rect x="1553.94" y="911" width="442.06" height="3" fill="#EFE5D9"/>
<rect x="1274.96" y="914" width="280.02" height="3" fill="url(#gW2L)"/>
<rect x="1554.98" y="914" width="441.02" height="3" fill="#EFE5D9"/>
<rect x="1277.04" y="917" width="278.98" height="3" fill="url(#gW2L)"/>
<rect x="1556.02" y="917" width="439.98" height="3" fill="#EFE5D9"/>
<rect x="1279.12" y="920" width="277.94" height="3" fill="url(#gW2L)"/>
<rect x="1557.06" y="920" width="438.94" height="3" fill="#EFE5D9"/>
<rect x="1281.19" y="923" width="276.9" height="3" fill="url(#gW2L)"/>
<rect x="1558.1" y="923" width="437.9" height="3" fill="#EFE5D9"/>
<rect x="1283.27" y="926" width="275.87" height="3" fill="url(#gW2L)"/>
<rect x="1559.13" y="926" width="436.87" height="3" fill="#EFE5D9"/>
<rect x="1285.44" y="929" width="274.9" height="3" fill="url(#gW2L)"/>
<rect x="1560.33" y="929" width="435.67" height="3" fill="#EFE5D9"/>
<rect x="1288.06" y="932" width="274.27" height="3" fill="url(#gW2L)"/>
<rect x="1562.33" y="932" width="433.67" height="3" fill="#EFE5D9"/>
<rect x="1290.69" y="935" width="273.65" height="3" fill="url(#gW2L)"/>
<rect x="1564.33" y="935" width="431.67" height="3" fill="#EFE5D9"/>
<rect x="1293.31" y="938" width="273.02" height="3" fill="url(#gW2L)"/>
<rect x="1566.33" y="938" width="429.67" height="3" fill="#EFE5D9"/>
<rect x="1295.94" y="941" width="272.4" height="3" fill="url(#gW2L)"/>
<rect x="1568.33" y="941" width="427.67" height="3" fill="#EFE5D9"/>
<rect x="1298.56" y="944" width="271.77" height="3" fill="url(#gW2L)"/>
<rect x="1570.33" y="944" width="425.67" height="3" fill="#EFE5D9"/>
<rect x="1301.19" y="947" width="271.15" height="3" fill="url(#gW2L)"/>
<rect x="1572.33" y="947" width="423.67" height="3" fill="#EFE5D9"/>
<rect x="1303.81" y="950" width="270.52" height="3" fill="url(#gW2L)"/>
<rect x="1574.33" y="950" width="421.67" height="3" fill="#EFE5D9"/>
<rect x="1306.44" y="953" width="269.9" height="3" fill="url(#gW2L)"/>
<rect x="1576.33" y="953" width="419.67" height="3" fill="#EFE5D9"/>
<rect x="1309.06" y="956" width="269.27" height="3" fill="url(#gW2L)"/>
<rect x="1578.33" y="956" width="417.67" height="3" fill="#EFE5D9"/>
<rect x="1311.69" y="959" width="268.65" height="3" fill="url(#gW2L)"/>
<rect x="1580.33" y="959" width="415.67" height="3" fill="#EFE5D9"/>
<rect x="1314.31" y="962" width="268.02" height="3" fill="url(#gW2L)"/>
<rect x="1582.33" y="962" width="413.67" height="3" fill="#EFE5D9"/>
<rect x="1316.94" y="965" width="267.4" height="3" fill="url(#gW2L)"/>
<rect x="1584.33" y="965" width="411.67" height="3" fill="#EFE5D9"/>
<rect x="1319.56" y="968" width="266.77" height="3" fill="url(#gW2L)"/>
<rect x="1586.33" y="968" width="409.67" height="3" fill="#EFE5D9"/>
<rect x="1322.19" y="971" width="266.15" height="3" fill="url(#gW2L)"/>
<rect x="1588.33" y="971" width="407.67" height="3" fill="#EFE5D9"/>
<rect x="1324.81" y="974" width="265.52" height="3" fill="url(#gW2L)"/>
<rect x="1590.33" y="974" width="405.67" height="3" fill="#EFE5D9"/>
<rect x="1327.44" y="977" width="264.9" height="3" fill="url(#gW2L)"/>
<rect x="1592.33" y="977" width="403.67" height="3" fill="#EFE5D9"/>
<rect x="1330.06" y="980" width="264.27" height="3" fill="url(#gW2L)"/>
<rect x="1594.33" y="980" width="401.67" height="3" fill="#EFE5D9"/>
<rect x="1332.69" y="983" width="263.65" height="3" fill="url(#gW2L)"/>
<rect x="1596.33" y="983" width="399.67" height="3" fill="#EFE5D9"/>
<rect x="1335.31" y="986" width="263.02" height="3" fill="url(#gW2L)"/>
<rect x="1598.33" y="986" width="397.67" height="3" fill="#EFE5D9"/>
<rect x="1337.94" y="989" width="262.4" height="3" fill="url(#gW2L)"/>
<rect x="1600.33" y="989" width="395.67" height="3" fill="#EFE5D9"/>
<rect x="1340.56" y="992" width="261.77" height="3" fill="url(#gW2L)"/>
<rect x="1602.33" y="992" width="393.67" height="3" fill="#EFE5D9"/>
<rect x="1343.19" y="995" width="261.15" height="3" fill="url(#gW2L)"/>
<rect x="1604.33" y="995" width="391.67" height="3" fill="#EFE5D9"/>
<rect x="1345.81" y="998" width="260.52" height="3" fill="url(#gW2L)"/>
<rect x="1606.33" y="998" width="389.67" height="3" fill="#EFE5D9"/>
<rect x="1348.44" y="1001" width="259.9" height="3" fill="url(#gW2L)"/>
<rect x="1608.33" y="1001" width="387.67" height="3" fill="#EFE5D9"/>
<rect x="1351.06" y="1004" width="259.27" height="3" fill="url(#gW2L)"/>
<rect x="1610.33" y="1004" width="385.67" height="3" fill="#EFE5D9"/>
<rect x="1353.69" y="1007" width="258.65" height="3" fill="url(#gW2L)"/>
<rect x="1612.33" y="1007" width="383.67" height="3" fill="#EFE5D9"/>
<rect x="1356.31" y="1010" width="258.02" height="3" fill="url(#gW2L)"/>
<rect x="1614.33" y="1010" width="381.67" height="3" fill="#EFE5D9"/>
<rect x="1358.94" y="1013" width="257.4" height="3" fill="url(#gW2L)"/>
<rect x="1616.33" y="1013" width="379.67" height="3" fill="#EFE5D9"/>
<rect x="1361.56" y="1016" width="256.77" height="3" fill="url(#gW2L)"/>
<rect x="1618.33" y="1016" width="377.67" height="3" fill="#EFE5D9"/>
<rect x="1364.19" y="1019" width="256.15" height="3" fill="url(#gW2L)"/>
<rect x="1620.33" y="1019" width="375.67" height="3" fill="#EFE5D9"/>
<rect x="1366.81" y="1022" width="255.52" height="3" fill="url(#gW2L)"/>
<rect x="1622.33" y="1022" width="373.67" height="3" fill="#EFE5D9"/>
<rect x="1369.44" y="1025" width="254.9" height="3" fill="url(#gW2L)"/>
<rect x="1624.33" y="1025" width="371.67" height="3" fill="#EFE5D9"/>
<rect x="1372.06" y="1028" width="254.27" height="3" fill="url(#gW2L)"/>
<rect x="1626.33" y="1028" width="369.67" height="3" fill="#EFE5D9"/>
<rect x="1374.69" y="1031" width="253.65" height="3" fill="url(#gW2L)"/>
<rect x="1628.33" y="1031" width="367.67" height="3" fill="#EFE5D9"/>
<rect x="1377.31" y="1034" width="253.02" height="3" fill="url(#gW2L)"/>
<rect x="1630.33" y="1034" width="365.67" height="3" fill="#EFE5D9"/>
<rect x="1379.94" y="1037" width="252.4" height="3" fill="url(#gW2L)"/>
<rect x="1632.33" y="1037" width="363.67" height="3" fill="#EFE5D9"/>
<rect x="1382.56" y="1040" width="251.77" height="3" fill="url(#gW2L)"/>
<rect x="1634.33" y="1040" width="361.67" height="3" fill="#EFE5D9"/>
<rect x="1385.19" y="1043" width="251.15" height="3" fill="url(#gW2L)"/>
<rect x="1636.33" y="1043" width="359.67" height="3" fill="#EFE5D9"/>
<rect x="1387.81" y="1046" width="250.52" height="3" fill="url(#gW2L)"/>
<rect x="1638.33" y="1046" width="357.67" height="3" fill="#EFE5D9"/>
<rect x="1390.44" y="1049" width="249.9" height="3" fill="url(#gW2L)"/>
<rect x="1640.33" y="1049" width="355.67" height="3" fill="#EFE5D9"/>
<rect x="1393.06" y="1052" width="249.27" height="3" fill="url(#gW2L)"/>
<rect x="1642.33" y="1052" width="353.67" height="3" fill="#EFE5D9"/>
<rect x="1395.69" y="1055" width="248.65" height="3" fill="url(#gW2L)"/>
<rect x="1644.33" y="1055" width="351.67" height="3" fill="#EFE5D9"/>
<rect x="1398.31" y="1058" width="248.02" height="3" fill="url(#gW2L)"/>
<rect x="1646.33" y="1058" width="349.67" height="3" fill="#EFE5D9"/>
<rect x="1400.94" y="1061" width="247.4" height="3" fill="url(#gW2L)"/>
<rect x="1648.33" y="1061" width="347.67" height="3" fill="#EFE5D9"/>
<rect x="1403.56" y="1064" width="246.77" height="3" fill="url(#gW2L)"/>
<rect x="1650.33" y="1064" width="345.67" height="3" fill="#EFE5D9"/>
<rect x="1406.19" y="1067" width="246.15" height="3" fill="url(#gW2L)"/>
<rect x="1652.33" y="1067" width="343.67" height="3" fill="#EFE5D9"/>
<rect x="1408.81" y="1070" width="245.52" height="3" fill="url(#gW2L)"/>
<rect x="1654.33" y="1070" width="341.67" height="3" fill="#EFE5D9"/>
<rect x="1411.44" y="1073" width="244.9" height="3" fill="url(#gW2L)"/>
<rect x="1656.33" y="1073" width="339.67" height="3" fill="#EFE5D9"/>
<rect x="1414.06" y="1076" width="244.27" height="3" fill="url(#gW2L)"/>
<rect x="1658.33" y="1076" width="337.67" height="3" fill="#EFE5D9"/>
<rect x="1416.69" y="1079" width="243.65" height="3" fill="url(#gW2L)"/>
<rect x="1660.33" y="1079" width="335.67" height="3" fill="#EFE5D9"/>
<rect x="1419.31" y="1082" width="243.02" height="3" fill="url(#gW2L)"/>
<rect x="1662.33" y="1082" width="333.67" height="3" fill="#EFE5D9"/>
<rect x="1421.94" y="1085" width="242.4" height="3" fill="url(#gW2L)"/>
<rect x="1664.33" y="1085" width="331.67" height="3" fill="#EFE5D9"/>
<rect x="1424.56" y="1088" width="241.77" height="3" fill="url(#gW2L)"/>
<rect x="1666.33" y="1088" width="329.67" height="3" fill="#EFE5D9"/>
<rect x="1427.19" y="1091" width="241.15" height="3" fill="url(#gW2L)"/>
<rect x="1668.33" y="1091" width="327.67" height="3" fill="#EFE5D9"/>
<rect x="1429.81" y="1094" width="240.52" height="3" fill="url(#gW2L)"/>
<rect x="1670.33" y="1094" width="325.67" height="3" fill="#EFE5D9"/>
<rect x="1432.44" y="1097" width="239.9" height="3" fill="url(#gW2L)"/>
<rect x="1672.33" y="1097" width="323.67" height="3" fill="#EFE5D9"/>
<rect x="1435.06" y="1100" width="239.27" height="3" fill="url(#gW2L)"/>
<rect x="1674.33" y="1100" width="321.67" height="3" fill="#EFE5D9"/>
<rect x="1437.69" y="1103" width="238.65" height="3" fill="url(#gW2L)"/>
<rect x="1676.33" y="1103" width="319.67" height="3" fill="#EFE5D9"/>
<rect x="1440.31" y="1106" width="238.02" height="3" fill="url(#gW2L)"/>
<rect x="1678.33" y="1106" width="317.67" height="3" fill="#EFE5D9"/>
<rect x="1442.94" y="1109" width="237.4" height="3" fill="url(#gW2L)"/>
<rect x="1680.33" y="1109" width="315.67" height="3" fill="#EFE5D9"/>
<rect x="1445.56" y="1112" width="236.77" height="3" fill="url(#gW2L)"/>
<rect x="1682.33" y="1112" width="313.67" height="3" fill="#EFE5D9"/>
<rect x="1448.19" y="1115" width="236.15" height="3" fill="url(#gW2L)"/>
<rect x="1684.33" y="1115" width="311.67" height="3" fill="#EFE5D9"/>
<rect x="1450.81" y="1118" width="235.52" height="3" fill="url(#gW2L)"/>
<rect x="1686.33" y="1118" width="309.67" height="3" fill="#EFE5D9"/>
<rect x="1453.44" y="1121" width="234.9" height="3" fill="url(#gW2L)"/>
<rect x="1688.33" y="1121" width="307.67" height="3" fill="#EFE5D9"/>
<rect x="1456.06" y="1124" width="234.27" height="3" fill="url(#gW2L)"/>
<rect x="1690.33" y="1124" width="305.67" height="3" fill="#EFE5D9"/>
<rect x="1458.69" y="1127" width="233.65" height="3" fill="url(#gW2L)"/>
<rect x="1692.33" y="1127" width="303.67" height="3" fill="#EFE5D9"/>
<rect x="1461.31" y="1130" width="233.02" height="3" fill="url(#gW2L)"/>
<rect x="1694.33" y="1130" width="301.67" height="3" fill="#EFE5D9"/>
<rect x="1463.94" y="1133" width="232.4" height="3" fill="url(#gW2L)"/>
<rect x="1696.33" y="1133" width="299.67" height="3" fill="#EFE5D9"/>
<rect x="1466.56" y="1136" width="231.77" height="3" fill="url(#gW2L)"/>
<rect x="1698.33" y="1136" width="297.67" height="3" fill="#EFE5D9"/>
<rect x="1469.19" y="1139" width="231.15" height="3" fill="url(#gW2L)"/>
<rect x="1700.33" y="1139" width="295.67" height="3" fill="#EFE5D9"/>
<rect x="1471.81" y="1142" width="230.52" height="3" fill="url(#gW2L)"/>
<rect x="1702.33" y="1142" width="293.67" height="3" fill="#EFE5D9"/>
<rect x="1474.44" y="1145" width="229.9" height="3" fill="url(#gW2L)"/>
<rect x="1704.33" y="1145" width="291.67" height="3" fill="#EFE5D9"/>
<rect x="1477.06" y="1148" width="229.27" height="3" fill="url(#gW2L)"/>
<rect x="1706.33" y="1148" width="289.67" height="3" fill="#EFE5D9"/>
<rect x="1479.69" y="1151" width="228.65" height="3" fill="url(#gW2L)"/>
<rect x="1708.33" y="1151" width="287.67" height="3" fill="#EFE5D9"/>
<rect x="1482.31" y="1154" width="228.02" height="3" fill="url(#gW2L)"/>
<rect x="1710.33" y="1154" width="285.67" height="3" fill="#EFE5D9"/>
<rect x="1484.94" y="1157" width="227.4" height="3" fill="url(#gW2L)"/>
<rect x="1712.33" y="1157" width="283.67" height="3" fill="#EFE5D9"/>
<rect x="1487.56" y="1160" width="226.77" height="3" fill="url(#gW2L)"/>
<rect x="1714.33" y="1160" width="281.67" height="3" fill="#EFE5D9"/>
<rect x="1490.19" y="1163" width="226.15" height="3" fill="url(#gW2L)"/>
<rect x="1716.33" y="1163" width="279.67" height="3" fill="#EFE5D9"/>
<rect x="1492.81" y="1166" width="225.52" height="3" fill="url(#gW2L)"/>
<rect x="1718.33" y="1166" width="277.67" height="3" fill="#EFE5D9"/>
<rect x="1495.43" y="1169" width="224.89" height="3" fill="url(#gW2L)"/>
<rect x="1720.33" y="1169" width="275.67" height="3" fill="#EFE5D9"/>
<rect x="1498.04" y="1172" width="224.24" height="3" fill="url(#gW2L)"/>
<rect x="1722.28" y="1172" width="273.72" height="3" fill="#EFE5D9"/>
<rect x="1500.65" y="1175" width="223.59" height="3" fill="url(#gW2L)"/>
<rect x="1724.24" y="1175" width="271.76" height="3" fill="#EFE5D9"/>
<rect x="1503.26" y="1178" width="222.93" height="3" fill="url(#gW2L)"/>
<rect x="1726.2" y="1178" width="269.8" height="3" fill="#EFE5D9"/>
<rect x="1505.87" y="1181" width="222.28" height="3" fill="url(#gW2L)"/>
<rect x="1728.15" y="1181" width="267.85" height="3" fill="#EFE5D9"/>
<rect x="1508.48" y="1184" width="221.63" height="3" fill="url(#gW2L)"/>
<rect x="1730.11" y="1184" width="265.89" height="3" fill="#EFE5D9"/>
<rect x="1511.09" y="1187" width="220.98" height="3" fill="url(#gW2L)"/>
<rect x="1732.07" y="1187" width="263.93" height="3" fill="#EFE5D9"/>
<rect x="1513.7" y="1190" width="220.33" height="3" fill="url(#gW2L)"/>
<rect x="1734.02" y="1190" width="261.98" height="3" fill="#EFE5D9"/>
<rect x="1516.3" y="1193" width="219.67" height="3" fill="url(#gW2L)"/>
<rect x="1735.98" y="1193" width="260.02" height="3" fill="#EFE5D9"/>
<rect x="1518.91" y="1196" width="219.02" height="3" fill="url(#gW2L)"/>
<rect x="1737.93" y="1196" width="258.07" height="3" fill="#EFE5D9"/>
<rect x="1521.52" y="1199" width="218.37" height="3" fill="url(#gW2L)"/>
<rect x="1739.89" y="1199" width="256.11" height="3" fill="#EFE5D9"/>
<rect x="1524.13" y="1202" width="217.72" height="3" fill="url(#gW2L)"/>
<rect x="1741.85" y="1202" width="254.15" height="3" fill="#EFE5D9"/>
<rect x="1526.74" y="1205" width="217.07" height="3" fill="url(#gW2L)"/>
<rect x="1743.8" y="1205" width="252.2" height="3" fill="#EFE5D9"/>
<rect x="1529.35" y="1208" width="216.41" height="3" fill="url(#gW2L)"/>
<rect x="1745.76" y="1208" width="250.24" height="3" fill="#EFE5D9"/>
<rect x="1531.96" y="1211" width="215.76" height="3" fill="url(#gW2L)"/>
<rect x="1747.72" y="1211" width="248.28" height="3" fill="#EFE5D9"/>
<rect x="1534.57" y="1214" width="215.11" height="3" fill="url(#gW2L)"/>
<rect x="1749.67" y="1214" width="246.33" height="3" fill="#EFE5D9"/>
</g>
<rect x="127.2" y="115.1" width="358.8" height="360.9" fill="#E7DCCF"/>
<rect x="1637" y="114.6" width="359" height="361.4" fill="#E7DCCF"/>
<path d="M127 385.7H142.2V387H157.9V389.5H171.8V391.6H186.2V404.6L232.9 406.9H233.4V414H243.7V419.1H253.6V424.8H263.3V426.7L288.6 431.2H288.6V431.7H295.5V437.8L325.4 442.5L362.4 448L364.2 454.5L392 461.9L425.3 466.5L441.9 472.1L467.8 475.8" fill="none" stroke="#5E5F61" stroke-width="2.4" stroke-linejoin="miter"/>
<path d="M127 158.3H181.1V229.3H224.1V286.7H257V352.7H278.6V360.3H298.3V409.9H309.3V414H331.1V420.2H341.5V428.3H349.5V437.8L375.3 439.1L377.2 441L398.4 442.8L400.3 445.2L409.5 448L430.8 452.6L432.7 455.8L443.8 459.1L445.6 461.9L458.6 467.4L461.3 471.1L467.8 475.8" fill="none" stroke="#EE3124" stroke-width="2.4" stroke-linejoin="miter"/>
<path d="M623.3 170.2H645.2V229.7H661.6V250.1H677V261.8H691.6V269.8H706.7V274.9H734.3V278.6H748.2V286.4H774.5V292H788.4V293.7H811.4V299H824.5V301.1H837.1V314.4H848.1V317.4H859.5V320H870V322.6H880.5V324.9H891V328.8H901.5V333.1H911.1V355H919.9V363.4H927.8V433.8H933.9V440.8H939.1V447.8L947 452L957.5 460L963.6 475.8" fill="none" stroke="#5E5F61" stroke-width="2.4" stroke-linejoin="miter"/>
<path d="M623.3 188.5H643.5V192.4H663V237.3H679.8V239.7H695.9V246.7H711.7V250H727.6V255.5H743.1V258H758.2V260.6H773.3V269.3H787.9V272.5H815.8V276.6H843.4V285.9H870V287.6H882.3V290.3H908.5V307.4H920.4V312.1H931.6V321.8H942.6V331.4H952.3V342.8H961.9V454.8L963.6 460V475.8" fill="none" stroke="#EE3124" stroke-width="2.4" stroke-linejoin="miter"/>
<path d="M1129.7 311.7H1146.4V376.1H1156.1V383H1165.8V385.8H1175V402.5H1182.5V410.8H1189.4V416.4H1203.3V424.7H1214.4V431.7H1225.6V437.2H1240V440H1253.3V444.2H1270V448.5H1285V453L1300 459.6L1305.5 462.3L1341.1 467.8L1395.9 471.9L1437 474.7L1457.5 476L1487 476" fill="none" stroke="#5E5F61" stroke-width="2.4" stroke-linejoin="miter"/>
<path d="M1129.7 255.3H1151.4V314.4H1168.6V377.5H1179.7V383H1188.9V413.6H1203.3V415H1225.6V417.8H1233.9V421.9H1242.2V427.5H1249.2V437.2H1256.1V444.2H1272V448H1287V452.5L1300 458.6L1305.5 461.3L1341.1 466.8L1395.9 471L1437 474L1457.5 475.5L1487 476" fill="none" stroke="#B1B3B6" stroke-width="2.4" stroke-linejoin="miter"/>
<path d="M1129.7 242.8H1153.9V300.6H1171.4V312.2H1188.1V327.5H1203.3V336.7H1217.8V348.3H1231.1V353.9H1243.6V359.4H1256.1V367.8H1266.7V381.7H1276.1V394.2H1285.3V399.7H1292.8V413.6H1299.2V417.8H1311V420.5H1327.4V428.1H1341.1V433.6H1352.1V437H1367.1V442.5H1378.1V448.6H1379.5V456.2L1395.9 464.4L1416.4 469.9L1437 473.3L1457.5 476" fill="none" stroke="#F7941D" stroke-width="2.4" stroke-linejoin="miter"/>
<path d="M1129.7 135H1164.4V242.2H1188.9V244.2H1211.7V273.3H1233.3V305.3H1250.6V312.2H1267.2V355.3H1280.6V367.8H1290.8V379.4H1300.6V381.1H1310.3V398.8H1318.5V408.2H1325.3V411.6H1332.2V414.4H1338.4V419.2H1343.8V424.4H1354.8V425.8H1360.3V430.8H1365.1V437H1368.5V442.5H1376.7V445.2H1385.6V450.7H1393.2V456.2H1411V460.3L1417.8 467.1L1437 471.2L1457.5 475.3L1487.7 476" fill="none" stroke="#EE3124" stroke-width="2.4" stroke-linejoin="miter"/>
<path d="M1636.1 224.7H1678.6V295.6H1708.6V336.4H1731.4V340H1753.6V349.7H1775V360H1793.9V364.2H1812.7V372.6H1847.7V405.5H1871.9V413H1882.9V419.9L1900 421.9H1900V432.2H1907.5V435.9H1915.8V441.1H1919.9V446.6H1921.2V452.7L1929.5 454.8L1937.7 458.2L1951.4 463.7L1955.5 469.9L1962.3 474.7L1973.3 476.7" fill="none" stroke="#B1B3B6" stroke-width="2.4" stroke-linejoin="miter"/>
<path d="M1636.1 315H1663.3V337.2H1685.6V340H1708.6V349.7H1730V367.2H1748.1V378.9H1764.2V385.8H1780V398.3H1792.5V401.1H1805.6V405.5H1816.2V409.6H1827.1V411.6H1838.8V419.9H1848.4V428.8H1855.5V432.2L1876 435.9V446.6L1917 452.7V456.2L1937.7 458.2L1951.4 463.7L1955.5 469.9L1962.3 474.7L1973.3 476.7" fill="none" stroke="#5E5F61" stroke-width="2.4" stroke-linejoin="miter"/>
<path d="M1636.1 156.1H1690.6V224.7H1733.3V271.1H1768.1V337.2H1791.1V350.6H1815.5V351.8H1834.7V360H1854.5V364.5H1873.3V374H1890.8V406.2H1902V420.5H1921.2V433.6H1928.8V445.2L1945.9 447.3L1963.7 456.2L1969.9 464.4L1971.9 472.6L1978.8 476.7" fill="none" stroke="#F7941D" stroke-width="2.4" stroke-linejoin="miter"/>
<path d="M1636.1 156.1H1690.6V224.7H1733.3V271.1H1768.1V322.8H1794.4V350.6H1815.5V351.8H1837.4V360H1857.3V363.7H1876.4V373.3H1893.6V419.2H1913V432.2H1919.9V439H1926V443.8H1943.8V451.4L1963.7 454V458.2H1974V468.5L1985.6 476.7" fill="none" stroke="#EE3124" stroke-width="2.4" stroke-linejoin="miter"/>
<line x1="127" y1="117.4" x2="127" y2="484.5" stroke="#000" stroke-width="3.7" stroke-linecap="butt"/>
<line x1="125.15" y1="476.3" x2="486" y2="476.3" stroke="#000" stroke-width="3.8" stroke-linecap="butt"/>
<line x1="119" y1="476" x2="127" y2="476" stroke="#000" stroke-width="3.3" stroke-linecap="butt"/>
<line x1="119" y1="404.6" x2="127" y2="404.6" stroke="#000" stroke-width="3.3" stroke-linecap="butt"/>
<line x1="119" y1="333.2" x2="127" y2="333.2" stroke="#000" stroke-width="3.3" stroke-linecap="butt"/>
<line x1="119" y1="261.8" x2="127" y2="261.8" stroke="#000" stroke-width="3.3" stroke-linecap="butt"/>
<line x1="119" y1="190.4" x2="127" y2="190.4" stroke="#000" stroke-width="3.3" stroke-linecap="butt"/>
<line x1="119" y1="119" x2="127" y2="119" stroke="#000" stroke-width="3.3" stroke-linecap="butt"/>
<line x1="121.5" y1="440.3" x2="127" y2="440.3" stroke="#000" stroke-width="3.3" stroke-linecap="butt"/>
<line x1="121.5" y1="368.9" x2="127" y2="368.9" stroke="#000" stroke-width="3.3" stroke-linecap="butt"/>
<line x1="121.5" y1="297.5" x2="127" y2="297.5" stroke="#000" stroke-width="3.3" stroke-linecap="butt"/>
<line x1="121.5" y1="226.1" x2="127" y2="226.1" stroke="#000" stroke-width="3.3" stroke-linecap="butt"/>
<line x1="121.5" y1="154.7" x2="127" y2="154.7" stroke="#000" stroke-width="3.3" stroke-linecap="butt"/>
<text x="100.65" y="487.1" font-size="32">0</text>
<text x="82.86" y="415.7" font-size="32">50</text>
<text x="65.06" y="344.3" font-size="32">100</text>
<text x="65.06" y="272.9" font-size="32">150</text>
<text x="65.06" y="201.5" font-size="32">200</text>
<text x="65.06" y="130.1" font-size="32">250</text>
<line x1="161" y1="476" x2="161" y2="484.5" stroke="#000" stroke-width="3.7" stroke-linecap="butt"/>
<line x1="195" y1="476" x2="195" y2="484.5" stroke="#000" stroke-width="3.7" stroke-linecap="butt"/>
<line x1="229" y1="476" x2="229" y2="484.5" stroke="#000" stroke-width="3.7" stroke-linecap="butt"/>
<line x1="263" y1="476" x2="263" y2="484.5" stroke="#000" stroke-width="3.7" stroke-linecap="butt"/>
<line x1="297" y1="476" x2="297" y2="484.5" stroke="#000" stroke-width="3.7" stroke-linecap="butt"/>
<line x1="331" y1="476" x2="331" y2="484.5" stroke="#000" stroke-width="3.7" stroke-linecap="butt"/>
<line x1="365" y1="476" x2="365" y2="484.5" stroke="#000" stroke-width="3.7" stroke-linecap="butt"/>
<line x1="399" y1="476" x2="399" y2="484.5" stroke="#000" stroke-width="3.7" stroke-linecap="butt"/>
<line x1="433" y1="476" x2="433" y2="484.5" stroke="#000" stroke-width="3.7" stroke-linecap="butt"/>
<line x1="467" y1="476" x2="467" y2="484.5" stroke="#000" stroke-width="3.7" stroke-linecap="butt"/>
<text x="180.29" y="514" font-size="31">20</text>
<text x="248.71" y="514" font-size="31">40</text>
<text x="316.28" y="514" font-size="31">60</text>
<text x="384.39" y="514" font-size="31">80</text>
<text x="441.76" y="514" font-size="31">100</text>
<text x="176.34" y="554.8" font-size="30" textLength="273.77" lengthAdjust="spacingAndGlyphs">Cumulative size (%)</text>
<text transform="rotate(-90)" x="-449.37" y="45.5" font-size="31.5" textLength="307.49" lengthAdjust="spacingAndGlyphs">Contig length (MBase)</text>
<text x="127.06" y="94.5" font-size="40" font-weight="bold" textLength="101.53" lengthAdjust="spacingAndGlyphs" fill="#231F20">Petrel</text>
<text x="272.73" y="155.6" font-size="34.3" textLength="195.91" lengthAdjust="spacingAndGlyphs">HiFi + Duplex</text>
<text x="304.97" y="189.9" font-size="28.3" textLength="164.23" lengthAdjust="spacingAndGlyphs">primary asm.</text>
<text x="355.64" y="228.4" font-size="30.7" textLength="71.25" lengthAdjust="spacingAndGlyphs" fill="#231F20">Base</text>
<text x="307.38" y="262.1" font-size="30.7" textLength="122.36" lengthAdjust="spacingAndGlyphs" fill="#231F20">Cornetto</text>
<line x1="435.5" y1="219.9" x2="454.5" y2="219.9" stroke="#5E5F61" stroke-width="5.8" stroke-linecap="round"/>
<line x1="435.5" y1="250.7" x2="454.5" y2="250.7" stroke="#EE3124" stroke-width="5.8" stroke-linecap="round"/>
<line x1="623.3" y1="118.5" x2="623.3" y2="484.5" stroke="#000" stroke-width="3.7" stroke-linecap="butt"/>
<line x1="621.45" y1="476.3" x2="982.9" y2="476.3" stroke="#000" stroke-width="3.8" stroke-linecap="butt"/>
<line x1="615.3" y1="476" x2="623.3" y2="476" stroke="#000" stroke-width="3.3" stroke-linecap="butt"/>
<line x1="615.3" y1="374" x2="623.3" y2="374" stroke="#000" stroke-width="3.3" stroke-linecap="butt"/>
<line x1="615.3" y1="272" x2="623.3" y2="272" stroke="#000" stroke-width="3.3" stroke-linecap="butt"/>
<line x1="615.3" y1="170" x2="623.3" y2="170" stroke="#000" stroke-width="3.3" stroke-linecap="butt"/>
<line x1="617.8" y1="425" x2="623.3" y2="425" stroke="#000" stroke-width="3.3" stroke-linecap="butt"/>
<line x1="617.8" y1="323" x2="623.3" y2="323" stroke="#000" stroke-width="3.3" stroke-linecap="butt"/>
<line x1="617.8" y1="221" x2="623.3" y2="221" stroke="#000" stroke-width="3.3" stroke-linecap="butt"/>
<line x1="617.8" y1="119" x2="623.3" y2="119" stroke="#000" stroke-width="3.3" stroke-linecap="butt"/>
<text x="596.95" y="487.1" font-size="32">0</text>
<text x="579.16" y="385.1" font-size="32">20</text>
<text x="579.16" y="283.1" font-size="32">40</text>
<text x="579.16" y="181.1" font-size="32">60</text>
<line x1="657.27" y1="476" x2="657.27" y2="484.5" stroke="#000" stroke-width="3.7" stroke-linecap="butt"/>
<line x1="691.24" y1="476" x2="691.24" y2="484.5" stroke="#000" stroke-width="3.7" stroke-linecap="butt"/>
<line x1="725.21" y1="476" x2="725.21" y2="484.5" stroke="#000" stroke-width="3.7" stroke-linecap="butt"/>
<line x1="759.18" y1="476" x2="759.18" y2="484.5" stroke="#000" stroke-width="3.7" stroke-linecap="butt"/>
<line x1="793.15" y1="476" x2="793.15" y2="484.5" stroke="#000" stroke-width="3.7" stroke-linecap="butt"/>
<line x1="827.12" y1="476" x2="827.12" y2="484.5" stroke="#000" stroke-width="3.7" stroke-linecap="butt"/>
<line x1="861.09" y1="476" x2="861.09" y2="484.5" stroke="#000" stroke-width="3.7" stroke-linecap="butt"/>
<line x1="895.06" y1="476" x2="895.06" y2="484.5" stroke="#000" stroke-width="3.7" stroke-linecap="butt"/>
<line x1="929.03" y1="476" x2="929.03" y2="484.5" stroke="#000" stroke-width="3.7" stroke-linecap="butt"/>
<line x1="963" y1="476" x2="963" y2="484.5" stroke="#000" stroke-width="3.7" stroke-linecap="butt"/>
<text x="676.53" y="514" font-size="31">20</text>
<text x="744.89" y="514" font-size="31">40</text>
<text x="812.4" y="514" font-size="31">60</text>
<text x="880.45" y="514" font-size="31">80</text>
<text x="937.76" y="514" font-size="31">100</text>
<text x="662.93" y="554.8" font-size="30" textLength="274.48" lengthAdjust="spacingAndGlyphs">Cumulative size (%)</text>
<text x="621.01" y="94.5" font-size="40" font-weight="bold" textLength="120.88" lengthAdjust="spacingAndGlyphs" fill="#231F20">Cichlid</text>
<text x="793.13" y="155.6" font-size="34.3" textLength="195.91" lengthAdjust="spacingAndGlyphs">HiFi + Duplex</text>
<text x="825.37" y="189.9" font-size="28.3" textLength="164.23" lengthAdjust="spacingAndGlyphs">primary asm.</text>
<text x="876.04" y="228.4" font-size="30.7" textLength="71.25" lengthAdjust="spacingAndGlyphs" fill="#231F20">Base</text>
<text x="827.78" y="262.1" font-size="30.7" textLength="122.36" lengthAdjust="spacingAndGlyphs" fill="#231F20">Cornetto</text>
<line x1="955.9" y1="219.9" x2="974.9" y2="219.9" stroke="#5E5F61" stroke-width="5.8" stroke-linecap="round"/>
<line x1="955.9" y1="250.7" x2="974.9" y2="250.7" stroke="#EE3124" stroke-width="5.8" stroke-linecap="round"/>
<line x1="1129.7" y1="119.2" x2="1129.7" y2="484.5" stroke="#000" stroke-width="3.7" stroke-linecap="butt"/>
<line x1="1127.85" y1="476.3" x2="1489" y2="476.3" stroke="#000" stroke-width="3.8" stroke-linecap="butt"/>
<line x1="1121.7" y1="476" x2="1129.7" y2="476" stroke="#000" stroke-width="3.3" stroke-linecap="butt"/>
<line x1="1121.7" y1="374" x2="1129.7" y2="374" stroke="#000" stroke-width="3.3" stroke-linecap="butt"/>
<line x1="1121.7" y1="272" x2="1129.7" y2="272" stroke="#000" stroke-width="3.3" stroke-linecap="butt"/>
<line x1="1121.7" y1="170" x2="1129.7" y2="170" stroke="#000" stroke-width="3.3" stroke-linecap="butt"/>
<line x1="1124.2" y1="450.5" x2="1129.7" y2="450.5" stroke="#000" stroke-width="3.3" stroke-linecap="butt"/>
<line x1="1124.2" y1="425" x2="1129.7" y2="425" stroke="#000" stroke-width="3.3" stroke-linecap="butt"/>
<line x1="1124.2" y1="399.5" x2="1129.7" y2="399.5" stroke="#000" stroke-width="3.3" stroke-linecap="butt"/>
<line x1="1124.2" y1="348.5" x2="1129.7" y2="348.5" stroke="#000" stroke-width="3.3" stroke-linecap="butt"/>
<line x1="1124.2" y1="323" x2="1129.7" y2="323" stroke="#000" stroke-width="3.3" stroke-linecap="butt"/>
<line x1="1124.2" y1="297.5" x2="1129.7" y2="297.5" stroke="#000" stroke-width="3.3" stroke-linecap="butt"/>
<line x1="1124.2" y1="246.5" x2="1129.7" y2="246.5" stroke="#000" stroke-width="3.3" stroke-linecap="butt"/>
<line x1="1124.2" y1="221" x2="1129.7" y2="221" stroke="#000" stroke-width="3.3" stroke-linecap="butt"/>
<line x1="1124.2" y1="195.5" x2="1129.7" y2="195.5" stroke="#000" stroke-width="3.3" stroke-linecap="butt"/>
<line x1="1124.2" y1="144.5" x2="1129.7" y2="144.5" stroke="#000" stroke-width="3.3" stroke-linecap="butt"/>
<line x1="1124.2" y1="119" x2="1129.7" y2="119" stroke="#000" stroke-width="3.3" stroke-linecap="butt"/>
<text x="1103.25" y="487.1" font-size="32">0</text>
<text x="1085.46" y="385.1" font-size="32">40</text>
<text x="1085.46" y="283.1" font-size="32">80</text>
<text x="1067.66" y="181.1" font-size="32">120</text>
<line x1="1163.4" y1="476" x2="1163.4" y2="484.5" stroke="#000" stroke-width="3.7" stroke-linecap="butt"/>
<line x1="1197.1" y1="476" x2="1197.1" y2="484.5" stroke="#000" stroke-width="3.7" stroke-linecap="butt"/>
<line x1="1230.8" y1="476" x2="1230.8" y2="484.5" stroke="#000" stroke-width="3.7" stroke-linecap="butt"/>
<line x1="1264.5" y1="476" x2="1264.5" y2="484.5" stroke="#000" stroke-width="3.7" stroke-linecap="butt"/>
<line x1="1298.2" y1="476" x2="1298.2" y2="484.5" stroke="#000" stroke-width="3.7" stroke-linecap="butt"/>
<line x1="1331.9" y1="476" x2="1331.9" y2="484.5" stroke="#000" stroke-width="3.7" stroke-linecap="butt"/>
<line x1="1365.6" y1="476" x2="1365.6" y2="484.5" stroke="#000" stroke-width="3.7" stroke-linecap="butt"/>
<line x1="1399.3" y1="476" x2="1399.3" y2="484.5" stroke="#000" stroke-width="3.7" stroke-linecap="butt"/>
<line x1="1433" y1="476" x2="1433" y2="484.5" stroke="#000" stroke-width="3.7" stroke-linecap="butt"/>
<line x1="1466.7" y1="476" x2="1466.7" y2="484.5" stroke="#000" stroke-width="3.7" stroke-linecap="butt"/>
<text x="1182.39" y="514" font-size="31">20</text>
<text x="1250.21" y="514" font-size="31">40</text>
<text x="1317.18" y="514" font-size="31">60</text>
<text x="1384.69" y="514" font-size="31">80</text>
<text x="1441.46" y="514" font-size="31">100</text>
<text x="1172.63" y="554.8" font-size="30" textLength="274.89" lengthAdjust="spacingAndGlyphs">Cumulative size (%)</text>
<text x="1128.57" y="94" font-size="40" font-weight="bold" textLength="106.87" lengthAdjust="spacingAndGlyphs" fill="#231F20">Parrot</text>
<text x="1305.25" y="155.4" font-size="34.3" textLength="188.7" lengthAdjust="spacingAndGlyphs">ONT simplex</text>
<text x="1224.67" y="190.6" font-size="28.3" textLength="270.53" lengthAdjust="spacingAndGlyphs">partially-phased asm.</text>
<text x="1411.53" y="234.3" font-size="33.5" textLength="82.02" lengthAdjust="spacingAndGlyphs">h1 h2</text>
<text x="1346.14" y="268.3" font-size="30.7" textLength="71.25" lengthAdjust="spacingAndGlyphs" fill="#231F20">Base</text>
<text x="1297.87" y="301.5" font-size="30.7" textLength="122.77" lengthAdjust="spacingAndGlyphs" fill="#231F20">Cornetto</text>
<line x1="1426.3" y1="259.1" x2="1445.1" y2="259.1" stroke="#B1B3B6" stroke-width="6" stroke-linecap="round"/>
<line x1="1459.6" y1="259.1" x2="1478.7" y2="259.1" stroke="#5E5F61" stroke-width="6" stroke-linecap="round"/>
<line x1="1425.6" y1="290" x2="1444.7" y2="290" stroke="#EE3124" stroke-width="6" stroke-linecap="round"/>
<line x1="1459.6" y1="290" x2="1478.7" y2="290" stroke="#F7941D" stroke-width="6" stroke-linecap="round"/>
<line x1="1636.1" y1="119.2" x2="1636.1" y2="484.5" stroke="#000" stroke-width="3.7" stroke-linecap="butt"/>
<line x1="1634.25" y1="476.3" x2="1995.6" y2="476.3" stroke="#000" stroke-width="3.8" stroke-linecap="butt"/>
<line x1="1628.1" y1="476" x2="1636.1" y2="476" stroke="#000" stroke-width="3.3" stroke-linecap="butt"/>
<line x1="1628.1" y1="373.8" x2="1636.1" y2="373.8" stroke="#000" stroke-width="3.3" stroke-linecap="butt"/>
<line x1="1628.1" y1="271.6" x2="1636.1" y2="271.6" stroke="#000" stroke-width="3.3" stroke-linecap="butt"/>
<line x1="1628.1" y1="169.4" x2="1636.1" y2="169.4" stroke="#000" stroke-width="3.3" stroke-linecap="butt"/>
<line x1="1630.6" y1="424.9" x2="1636.1" y2="424.9" stroke="#000" stroke-width="3.3" stroke-linecap="butt"/>
<line x1="1630.6" y1="322.7" x2="1636.1" y2="322.7" stroke="#000" stroke-width="3.3" stroke-linecap="butt"/>
<line x1="1630.6" y1="220.5" x2="1636.1" y2="220.5" stroke="#000" stroke-width="3.3" stroke-linecap="butt"/>
<line x1="1630.6" y1="118.3" x2="1636.1" y2="118.3" stroke="#000" stroke-width="3.3" stroke-linecap="butt"/>
<text x="1574.86" y="384.9" font-size="32">100</text>
<text x="1574.86" y="282.7" font-size="32">200</text>
<text x="1574.86" y="180.5" font-size="32">300</text>
<line x1="1670.19" y1="476" x2="1670.19" y2="484.5" stroke="#000" stroke-width="3.7" stroke-linecap="butt"/>
<line x1="1704.28" y1="476" x2="1704.28" y2="484.5" stroke="#000" stroke-width="3.7" stroke-linecap="butt"/>
<line x1="1738.37" y1="476" x2="1738.37" y2="484.5" stroke="#000" stroke-width="3.7" stroke-linecap="butt"/>
<line x1="1772.46" y1="476" x2="1772.46" y2="484.5" stroke="#000" stroke-width="3.7" stroke-linecap="butt"/>
<line x1="1806.55" y1="476" x2="1806.55" y2="484.5" stroke="#000" stroke-width="3.7" stroke-linecap="butt"/>
<line x1="1840.64" y1="476" x2="1840.64" y2="484.5" stroke="#000" stroke-width="3.7" stroke-linecap="butt"/>
<line x1="1874.73" y1="476" x2="1874.73" y2="484.5" stroke="#000" stroke-width="3.7" stroke-linecap="butt"/>
<line x1="1908.82" y1="476" x2="1908.82" y2="484.5" stroke="#000" stroke-width="3.7" stroke-linecap="butt"/>
<line x1="1942.91" y1="476" x2="1942.91" y2="484.5" stroke="#000" stroke-width="3.7" stroke-linecap="butt"/>
<line x1="1977" y1="476" x2="1977" y2="484.5" stroke="#000" stroke-width="3.7" stroke-linecap="butt"/>
<text x="1689.57" y="514" font-size="31">20</text>
<text x="1758.17" y="514" font-size="31">40</text>
<text x="1825.92" y="514" font-size="31">60</text>
<text x="1894.21" y="514" font-size="31">80</text>
<text x="1951.76" y="514" font-size="31">100</text>
<text x="1685.93" y="554.8" font-size="30" textLength="274.89" lengthAdjust="spacingAndGlyphs">Cumulative size (%)</text>
<text x="1628.6" y="94" font-size="40" font-weight="bold" textLength="99.22" lengthAdjust="spacingAndGlyphs" fill="#231F20">Turtle</text>
<text x="1794.95" y="155.4" font-size="34.3" textLength="188.7" lengthAdjust="spacingAndGlyphs">ONT simplex</text>
<text x="1714.37" y="190.6" font-size="28.3" textLength="270.53" lengthAdjust="spacingAndGlyphs">partially-phased asm.</text>
<text x="1901.23" y="234.3" font-size="33.5" textLength="82.02" lengthAdjust="spacingAndGlyphs">h1 h2</text>
<text x="1840.14" y="268.3" font-size="30.7" textLength="71.25" lengthAdjust="spacingAndGlyphs" fill="#231F20">Base</text>
<text x="1791.87" y="301.5" font-size="30.7" textLength="122.77" lengthAdjust="spacingAndGlyphs" fill="#231F20">Cornetto</text>
<line x1="1920.3" y1="259.1" x2="1939.1" y2="259.1" stroke="#B1B3B6" stroke-width="6" stroke-linecap="round"/>
<line x1="1953.6" y1="259.1" x2="1972.7" y2="259.1" stroke="#5E5F61" stroke-width="6" stroke-linecap="round"/>
<line x1="1919.6" y1="290" x2="1938.7" y2="290" stroke="#EE3124" stroke-width="6" stroke-linecap="round"/>
<line x1="1953.6" y1="290" x2="1972.7" y2="290" stroke="#F7941D" stroke-width="6" stroke-linecap="round"/>
<g stroke="#231F20" stroke-width="1.3">
<rect x="127" y="830.35" width="7.16" height="59.55" fill="#D1D3D4"/>
<rect x="134.16" y="831.85" width="7.16" height="58.05" fill="#D1D3D4"/>
<rect x="141.32" y="833.75" width="7.16" height="56.15" fill="#D1D3D4"/>
<rect x="148.48" y="834.85" width="7.16" height="55.05" fill="#D1D3D4"/>
<rect x="155.64" y="843.25" width="7.16" height="46.65" fill="#D1D3D4"/>
<rect x="162.8" y="843.35" width="7.16" height="46.55" fill="#D1D3D4"/>
<rect x="169.96" y="843.95" width="7.16" height="45.95" fill="#D1D3D4"/>
<rect x="177.12" y="844.95" width="7.16" height="44.95" fill="#D1D3D4"/>
<rect x="184.28" y="849.35" width="7.16" height="40.55" fill="#963F98"/>
<rect x="191.44" y="852.25" width="7.16" height="37.65" fill="#D1D3D4"/>
<rect x="198.6" y="856.05" width="7.16" height="33.85" fill="#D1D3D4"/>
<rect x="205.76" y="856.95" width="7.16" height="32.95" fill="#D1D3D4"/>
<rect x="212.92" y="857.45" width="7.16" height="32.45" fill="#D1D3D4"/>
<rect x="220.08" y="857.95" width="7.16" height="31.95" fill="#D1D3D4"/>
<rect x="227.24" y="861.25" width="7.16" height="28.65" fill="#EEA7CB"/>
<rect x="234.4" y="865.25" width="7.16" height="24.65" fill="#EEA7CB"/>
<rect x="241.56" y="865.25" width="7.16" height="24.65" fill="#D1D3D4"/>
<rect x="248.72" y="866.05" width="7.16" height="23.85" fill="#D1D3D4"/>
<rect x="255.88" y="866.95" width="7.16" height="22.95" fill="#D1D3D4"/>
<rect x="263.04" y="867.95" width="7.16" height="21.95" fill="#EEA7CB"/>
<rect x="270.2" y="868.85" width="7.16" height="21.05" fill="#D1D3D4"/>
<rect x="277.36" y="869.65" width="7.16" height="20.25" fill="#EEA7CB"/>
<rect x="284.52" y="869.65" width="7.16" height="20.25" fill="#EEA7CB"/>
<rect x="291.68" y="870.25" width="7.16" height="19.65" fill="#EEA7CB"/>
<rect x="298.84" y="870.85" width="7.16" height="19.05" fill="#EEA7CB"/>
<rect x="306" y="872.45" width="7.16" height="17.45" fill="#D1D3D4"/>
<rect x="313.16" y="872.45" width="7.16" height="17.45" fill="#D1D3D4"/>
<rect x="320.32" y="876.75" width="7.16" height="13.15" fill="#D1D3D4"/>
<rect x="327.48" y="877.55" width="7.16" height="12.35" fill="#D1D3D4"/>
<rect x="334.64" y="877.65" width="7.16" height="12.25" fill="#963F98"/>
<rect x="341.8" y="878.65" width="7.16" height="11.25" fill="#D1D3D4"/>
<rect x="348.96" y="879.45" width="7.16" height="10.45" fill="#EEA7CB"/>
<rect x="356.12" y="879.45" width="7.16" height="10.45" fill="#EEA7CB"/>
<rect x="363.28" y="880.05" width="7.16" height="9.85" fill="#D1D3D4"/>
<rect x="370.44" y="880.35" width="7.16" height="9.55" fill="#D1D3D4"/>
<rect x="377.6" y="881.05" width="7.16" height="8.85" fill="#EEA7CB"/>
<rect x="384.76" y="881.65" width="7.16" height="8.25" fill="#963F98"/>
<rect x="391.92" y="881.95" width="7.16" height="7.95" fill="#EEA7CB"/>
<rect x="399.08" y="881.95" width="7.16" height="7.95" fill="#EEA7CB"/>
<rect x="406.24" y="882.15" width="7.16" height="7.75" fill="#D1D3D4"/>
<rect x="413.4" y="882.45" width="7.16" height="7.45" fill="#EEA7CB"/>
<rect x="420.56" y="882.45" width="7.16" height="7.45" fill="#D1D3D4"/>
<rect x="427.72" y="882.45" width="7.16" height="7.45" fill="#963F98"/>
<rect x="434.88" y="882.95" width="7.16" height="6.95" fill="#D1D3D4"/>
<rect x="442.04" y="882.95" width="7.16" height="6.95" fill="#EEA7CB"/>
<rect x="449.2" y="882.45" width="7.16" height="7.45" fill="#963F98"/>
<rect x="456.36" y="883.45" width="7.16" height="6.45" fill="#D1D3D4"/>
<rect x="463.52" y="883.85" width="7.16" height="6.05" fill="#EEA7CB"/>
<rect x="470.68" y="883.85" width="7.16" height="6.05" fill="#D1D3D4"/>
<rect x="477.84" y="883.45" width="7.16" height="6.45" fill="#EEA7CB"/>
</g>
<g stroke="#231F20" stroke-width="1.3">
<rect x="623.3" y="677.85" width="7.04" height="212.35" fill="#963F98"/>
<rect x="630.33" y="726.15" width="7.04" height="164.05" fill="#963F98"/>
<rect x="637.37" y="763.85" width="7.04" height="126.35" fill="#963F98"/>
<rect x="644.4" y="808.45" width="7.04" height="81.75" fill="#963F98"/>
<rect x="651.44" y="813.35" width="7.04" height="76.85" fill="#EEA7CB"/>
<rect x="658.47" y="846.35" width="7.04" height="43.85" fill="#963F98"/>
<rect x="665.51" y="848.95" width="7.04" height="41.25" fill="#EEA7CB"/>
<rect x="672.54" y="849.35" width="7.04" height="40.85" fill="#963F98"/>
<rect x="679.58" y="853.35" width="7.04" height="36.85" fill="#963F98"/>
<rect x="686.62" y="858.25" width="7.04" height="31.95" fill="#963F98"/>
<rect x="693.65" y="865.15" width="7.04" height="25.05" fill="#963F98"/>
<rect x="700.68" y="865.15" width="7.04" height="25.05" fill="#963F98"/>
<rect x="707.72" y="865.15" width="7.04" height="25.05" fill="#963F98"/>
<rect x="714.75" y="866.55" width="7.04" height="23.65" fill="#963F98"/>
<rect x="721.79" y="867.15" width="7.04" height="23.05" fill="#EEA7CB"/>
<rect x="728.82" y="867.15" width="7.04" height="23.05" fill="#963F98"/>
<rect x="735.86" y="868.15" width="7.04" height="22.05" fill="#D1D3D4"/>
<rect x="742.89" y="868.15" width="7.04" height="22.05" fill="#963F98"/>
<rect x="749.93" y="870.05" width="7.04" height="20.15" fill="#963F98"/>
<rect x="756.96" y="870.95" width="7.04" height="19.25" fill="#963F98"/>
<rect x="764" y="872.15" width="7.04" height="18.05" fill="#963F98"/>
<rect x="771.03" y="873.15" width="7.04" height="17.05" fill="#EEA7CB"/>
<rect x="778.07" y="873.15" width="7.04" height="17.05" fill="#EEA7CB"/>
<rect x="785.11" y="875.05" width="7.04" height="15.15" fill="#963F98"/>
<rect x="792.14" y="875.05" width="7.04" height="15.15" fill="#963F98"/>
<rect x="799.17" y="877.15" width="7.04" height="13.05" fill="#EEA7CB"/>
<rect x="806.21" y="877.15" width="7.04" height="13.05" fill="#963F98"/>
<rect x="813.24" y="878.15" width="7.04" height="12.05" fill="#963F98"/>
<rect x="820.28" y="880.25" width="7.04" height="9.95" fill="#EEA7CB"/>
<rect x="827.31" y="881.25" width="7.04" height="8.95" fill="#963F98"/>
<rect x="834.35" y="881.95" width="7.04" height="8.25" fill="#963F98"/>
<rect x="841.38" y="882.15" width="7.04" height="8.05" fill="#EEA7CB"/>
<rect x="848.42" y="882.95" width="7.04" height="7.25" fill="#963F98"/>
<rect x="855.45" y="883.15" width="7.04" height="7.05" fill="#963F98"/>
<rect x="862.49" y="884.15" width="7.04" height="6.05" fill="#EEA7CB"/>
<rect x="869.52" y="884.15" width="7.04" height="6.05" fill="#EEA7CB"/>
<rect x="876.56" y="885.05" width="7.04" height="5.15" fill="#963F98"/>
<rect x="883.6" y="885.05" width="7.04" height="5.15" fill="#963F98"/>
<rect x="890.63" y="885.05" width="7.04" height="5.15" fill="#D1D3D4"/>
<rect x="897.66" y="885.05" width="7.04" height="5.15" fill="#EEA7CB"/>
<rect x="904.7" y="887.15" width="7.04" height="3.05" fill="#D1D3D4"/>
<rect x="911.73" y="887.15" width="7.04" height="3.05" fill="#963F98"/>
<rect x="918.77" y="887.15" width="7.04" height="3.05" fill="#963F98"/>
<rect x="925.8" y="887.15" width="7.04" height="3.05" fill="#963F98"/>
<rect x="932.84" y="887.95" width="7.04" height="2.25" fill="#963F98"/>
<rect x="939.88" y="887.95" width="7.04" height="2.25" fill="#963F98"/>
<rect x="946.91" y="887.95" width="7.04" height="2.25" fill="#963F98"/>
<rect x="953.94" y="887.95" width="7.04" height="2.25" fill="#963F98"/>
<rect x="960.98" y="887.95" width="7.04" height="2.25" fill="#963F98"/>
<rect x="968.01" y="887.95" width="7.04" height="2.25" fill="#963F98"/>
</g>
<line x1="127" y1="650.7" x2="127" y2="891.6" stroke="#000" stroke-width="3.4" stroke-linecap="butt"/>
<line x1="125.3" y1="889.9" x2="485.7" y2="889.9" stroke="#000" stroke-width="3.4" stroke-linecap="butt"/>
<line x1="121.5" y1="651.7" x2="127" y2="651.7" stroke="#000" stroke-width="3" stroke-linecap="butt"/>
<line x1="119" y1="699.4" x2="127" y2="699.4" stroke="#000" stroke-width="3" stroke-linecap="butt"/>
<line x1="121.5" y1="747.2" x2="127" y2="747.2" stroke="#000" stroke-width="3" stroke-linecap="butt"/>
<line x1="119" y1="795" x2="127" y2="795" stroke="#000" stroke-width="3" stroke-linecap="butt"/>
<line x1="121.5" y1="842.5" x2="127" y2="842.5" stroke="#000" stroke-width="3" stroke-linecap="butt"/>
<line x1="119" y1="889.9" x2="127" y2="889.9" stroke="#000" stroke-width="3" stroke-linecap="butt"/>
<text x="64.37" y="711.3" font-size="31.5">200</text>
<text x="99.41" y="901.4" font-size="31.5">0</text>
<line x1="622.9" y1="650.3" x2="622.9" y2="892" stroke="#000" stroke-width="3.4" stroke-linecap="butt"/>
<line x1="621.2" y1="890.2" x2="982.5" y2="890.2" stroke="#000" stroke-width="3.4" stroke-linecap="butt"/>
<line x1="617.4" y1="651.7" x2="622.9" y2="651.7" stroke="#000" stroke-width="3" stroke-linecap="butt"/>
<line x1="614.9" y1="699.2" x2="622.9" y2="699.2" stroke="#000" stroke-width="3" stroke-linecap="butt"/>
<line x1="617.4" y1="746.8" x2="622.9" y2="746.8" stroke="#000" stroke-width="3" stroke-linecap="butt"/>
<line x1="614.9" y1="794.3" x2="622.9" y2="794.3" stroke="#000" stroke-width="3" stroke-linecap="butt"/>
<line x1="617.4" y1="842" x2="622.9" y2="842" stroke="#000" stroke-width="3" stroke-linecap="butt"/>
<line x1="614.9" y1="890.2" x2="622.9" y2="890.2" stroke="#000" stroke-width="3" stroke-linecap="butt"/>
<text x="558.97" y="711.3" font-size="31.5">200</text>
<text x="558.97" y="806" font-size="31.5">100</text>
<text x="594.01" y="901.6" font-size="31.5">0</text>
<text x="155.34" y="646" font-size="42" font-weight="bold" textLength="102.27" lengthAdjust="spacingAndGlyphs" fill="#231F20">Petrel</text>
<text x="154.28" y="686" font-size="35.5" textLength="75.59" lengthAdjust="spacingAndGlyphs" fill="#231F20" stroke="#231F20" stroke-width="0.55">Base</text>
<text x="653.08" y="685.3" font-size="34.5" textLength="130.15" lengthAdjust="spacingAndGlyphs" fill="#231F20" stroke="#231F20" stroke-width="0.55">Cornetto</text>
<text transform="rotate(-90)" x="-888.08" y="41.8" font-size="31.5" textLength="182.79" lengthAdjust="spacingAndGlyphs">Contig length</text>
<text transform="rotate(-90)" x="-852.86" y="76.5" font-size="31.5" textLength="113.22" lengthAdjust="spacingAndGlyphs">(MBase)</text>
<path d="M517 884.4H547V874.6L569.8 888.2L547 902V892H517Z" fill="#000"/>
<rect x="794.9" y="731" width="24.1" height="22.8" fill="#963F98" stroke="#231F20" stroke-width="1.6"/>
<rect x="794.9" y="767" width="24.1" height="22.9" fill="#EE949B" stroke="#3A3230" stroke-width="1.6"/>
<rect x="794.9" y="802.2" width="24.1" height="22.3" fill="#D1D3D4" stroke="#3A3230" stroke-width="1.6"/>
<text x="831.34" y="753.5" font-size="34.2" textLength="155.82" lengthAdjust="spacingAndGlyphs">2 telomere</text>
<text x="830.47" y="790.4" font-size="34.2" textLength="156.7" lengthAdjust="spacingAndGlyphs">1 telomere</text>
<text x="831.71" y="825" font-size="34.2" textLength="155.45" lengthAdjust="spacingAndGlyphs">0 telomere</text>
<g stroke="#231F20" stroke-width="1.3">
<rect x="1135.5" y="711.35" width="7.09" height="166.95" fill="#EEA7CB"/>
<rect x="1142.59" y="758.15" width="7.09" height="120.15" fill="#EEA7CB"/>
<rect x="1149.68" y="786.75" width="7.09" height="91.55" fill="#EEA7CB"/>
<rect x="1156.77" y="789.05" width="7.09" height="89.25" fill="#D1D3D4"/>
<rect x="1163.86" y="794.25" width="7.09" height="84.05" fill="#963F98"/>
<rect x="1170.95" y="801.15" width="7.09" height="77.15" fill="#963F98"/>
<rect x="1178.04" y="804.55" width="7.09" height="73.75" fill="#963F98"/>
<rect x="1185.13" y="809.55" width="7.09" height="68.75" fill="#EEA7CB"/>
<rect x="1192.22" y="810.25" width="7.09" height="68.05" fill="#EEA7CB"/>
<rect x="1199.31" y="831.25" width="7.09" height="47.05" fill="#EEA7CB"/>
<rect x="1206.4" y="831.75" width="7.09" height="46.55" fill="#EEA7CB"/>
<rect x="1213.49" y="837.45" width="7.09" height="40.85" fill="#D1D3D4"/>
<rect x="1220.58" y="841.05" width="7.09" height="37.25" fill="#963F98"/>
<rect x="1227.67" y="842.25" width="7.09" height="36.05" fill="#EEA7CB"/>
<rect x="1234.76" y="849.05" width="7.09" height="29.25" fill="#D1D3D4"/>
<rect x="1241.85" y="851.75" width="7.09" height="26.55" fill="#EEA7CB"/>
<rect x="1248.94" y="857.45" width="7.09" height="20.85" fill="#963F98"/>
<rect x="1256.03" y="862.75" width="7.09" height="15.55" fill="#EEA7CB"/>
<rect x="1263.12" y="863.25" width="7.09" height="15.05" fill="#EEA7CB"/>
<rect x="1270.21" y="865.45" width="7.09" height="12.85" fill="#D1D3D4"/>
<rect x="1277.3" y="865.45" width="7.09" height="12.85" fill="#EEA7CB"/>
<rect x="1284.39" y="865.95" width="7.09" height="12.35" fill="#D1D3D4"/>
<rect x="1291.48" y="866.65" width="7.09" height="11.65" fill="#EEA7CB"/>
<rect x="1298.57" y="868.45" width="7.09" height="9.85" fill="#D1D3D4"/>
<rect x="1305.66" y="869.45" width="7.09" height="8.85" fill="#D1D3D4"/>
<rect x="1312.75" y="869.15" width="7.09" height="9.15" fill="#EEA7CB"/>
<rect x="1319.84" y="871.65" width="7.09" height="6.65" fill="#D1D3D4"/>
<rect x="1326.93" y="872.15" width="7.09" height="6.15" fill="#D1D3D4"/>
<rect x="1334.02" y="874.15" width="7.09" height="4.15" fill="#D1D3D4"/>
<rect x="1341.11" y="875.65" width="7.09" height="2.65" fill="#D1D3D4"/>
<rect x="1348.2" y="876.15" width="7.09" height="2.15" fill="#D1D3D4"/>
<rect x="1355.29" y="876.15" width="7.09" height="2.15" fill="#D1D3D4"/>
<rect x="1362.38" y="876.15" width="7.09" height="2.15" fill="#D1D3D4"/>
<rect x="1369.47" y="876.15" width="7.09" height="2.15" fill="#D1D3D4"/>
<rect x="1376.56" y="876.15" width="7.09" height="2.15" fill="#D1D3D4"/>
<rect x="1383.65" y="876.85" width="7.09" height="1.45" fill="#D1D3D4"/>
<rect x="1390.74" y="876.85" width="7.09" height="1.45" fill="#D1D3D4"/>
<rect x="1397.83" y="876.85" width="7.09" height="1.45" fill="#D1D3D4"/>
<rect x="1404.92" y="876.85" width="7.09" height="1.45" fill="#D1D3D4"/>
</g>
<g stroke="#231F20" stroke-width="1.3">
<rect x="1135.5" y="899.3" width="6.97" height="106.05" fill="#D1D3D4"/>
<rect x="1142.47" y="899.3" width="6.97" height="91.45" fill="#D1D3D4"/>
<rect x="1149.44" y="899.3" width="6.97" height="90.05" fill="#D1D3D4"/>
<rect x="1156.41" y="899.3" width="6.97" height="83.95" fill="#963F98"/>
<rect x="1163.38" y="899.3" width="6.97" height="72.55" fill="#D1D3D4"/>
<rect x="1170.35" y="899.3" width="6.97" height="64.55" fill="#D1D3D4"/>
<rect x="1177.32" y="899.3" width="6.97" height="59.95" fill="#D1D3D4"/>
<rect x="1184.29" y="899.3" width="6.97" height="51.25" fill="#EEA7CB"/>
<rect x="1191.26" y="899.3" width="6.97" height="49.65" fill="#D1D3D4"/>
<rect x="1198.23" y="899.3" width="6.97" height="46.75" fill="#D1D3D4"/>
<rect x="1205.2" y="899.3" width="6.97" height="43.55" fill="#EEA7CB"/>
<rect x="1212.17" y="899.3" width="6.97" height="41.65" fill="#D1D3D4"/>
<rect x="1219.14" y="899.3" width="6.97" height="36.45" fill="#EEA7CB"/>
<rect x="1226.11" y="899.3" width="6.97" height="30.75" fill="#EEA7CB"/>
<rect x="1233.08" y="899.3" width="6.97" height="27.95" fill="#D1D3D4"/>
<rect x="1240.05" y="899.3" width="6.97" height="27.55" fill="#EEA7CB"/>
<rect x="1247.02" y="899.3" width="6.97" height="25.75" fill="#EEA7CB"/>
<rect x="1253.99" y="899.3" width="6.97" height="20.05" fill="#D1D3D4"/>
<rect x="1260.96" y="899.3" width="6.97" height="19.35" fill="#EEA7CB"/>
<rect x="1267.93" y="899.3" width="6.97" height="18.85" fill="#D1D3D4"/>
<rect x="1274.9" y="899.3" width="6.97" height="17.75" fill="#D1D3D4"/>
<rect x="1281.87" y="899.3" width="6.97" height="16.55" fill="#D1D3D4"/>
<rect x="1288.84" y="899.3" width="6.97" height="16.15" fill="#D1D3D4"/>
<rect x="1295.81" y="899.3" width="6.97" height="16.15" fill="#EEA7CB"/>
<rect x="1302.78" y="899.3" width="6.97" height="16.55" fill="#EEA7CB"/>
<rect x="1309.75" y="899.3" width="6.97" height="15.55" fill="#EEA7CB"/>
<rect x="1316.72" y="899.3" width="6.97" height="13.05" fill="#D1D3D4"/>
<rect x="1323.69" y="899.3" width="6.97" height="13.05" fill="#EEA7CB"/>
<rect x="1330.66" y="899.3" width="6.97" height="12.55" fill="#EEA7CB"/>
<rect x="1337.63" y="899.3" width="6.97" height="12.55" fill="#D1D3D4"/>
<rect x="1344.6" y="899.3" width="6.97" height="12.05" fill="#963F98"/>
<rect x="1351.57" y="899.3" width="6.97" height="12.05" fill="#EEA7CB"/>
<rect x="1358.54" y="899.3" width="6.97" height="12.55" fill="#963F98"/>
<rect x="1365.51" y="899.3" width="6.97" height="11.05" fill="#D1D3D4"/>
<rect x="1372.48" y="899.3" width="6.97" height="10.05" fill="#EEA7CB"/>
<rect x="1379.45" y="899.3" width="6.97" height="9.05" fill="#963F98"/>
<rect x="1386.42" y="899.3" width="6.97" height="9.05" fill="#EEA7CB"/>
<rect x="1393.39" y="899.3" width="6.97" height="7.05" fill="#D1D3D4"/>
<rect x="1400.36" y="899.3" width="6.97" height="5.05" fill="#EEA7CB"/>
<rect x="1407.33" y="899.3" width="6.97" height="2.55" fill="#EEA7CB"/>
<rect x="1414.3" y="899.3" width="6.97" height="3.05" fill="#D1D3D4"/>
<rect x="1421.27" y="899.3" width="6.97" height="2.05" fill="#D1D3D4"/>
<rect x="1428.24" y="899.3" width="6.97" height="2.05" fill="#D1D3D4"/>
<rect x="1435.21" y="899.3" width="6.97" height="2.05" fill="#D1D3D4"/>
</g>
<g stroke="#231F20" stroke-width="1.3">
<rect x="1635.9" y="665.75" width="7.1" height="212.55" fill="#963F98"/>
<rect x="1643" y="711.35" width="7.1" height="166.95" fill="#963F98"/>
<rect x="1650.1" y="742.25" width="7.1" height="136.05" fill="#EEA7CB"/>
<rect x="1657.2" y="776.45" width="7.1" height="101.85" fill="#EEA7CB"/>
<rect x="1664.3" y="794.25" width="7.1" height="84.05" fill="#EEA7CB"/>
<rect x="1671.4" y="796.55" width="7.1" height="81.75" fill="#963F98"/>
<rect x="1678.5" y="801.55" width="7.1" height="76.75" fill="#963F98"/>
<rect x="1685.6" y="804.35" width="7.1" height="73.95" fill="#963F98"/>
<rect x="1692.7" y="810.25" width="7.1" height="68.05" fill="#963F98"/>
<rect x="1699.8" y="841.05" width="7.1" height="37.25" fill="#963F98"/>
<rect x="1706.9" y="841.05" width="7.1" height="37.25" fill="#963F98"/>
<rect x="1714" y="849.95" width="7.1" height="28.35" fill="#EEA7CB"/>
<rect x="1721.1" y="854.05" width="7.1" height="24.25" fill="#EEA7CB"/>
<rect x="1728.2" y="857.45" width="7.1" height="20.85" fill="#EEA7CB"/>
<rect x="1735.3" y="858.15" width="7.1" height="20.15" fill="#D1D3D4"/>
<rect x="1742.4" y="858.15" width="7.1" height="20.15" fill="#EEA7CB"/>
<rect x="1749.5" y="862.05" width="7.1" height="16.25" fill="#EEA7CB"/>
<rect x="1756.6" y="862.75" width="7.1" height="15.55" fill="#EEA7CB"/>
<rect x="1763.7" y="863.25" width="7.1" height="15.05" fill="#EEA7CB"/>
<rect x="1770.8" y="863.45" width="7.1" height="14.85" fill="#EEA7CB"/>
<rect x="1777.9" y="864.35" width="7.1" height="13.95" fill="#EEA7CB"/>
<rect x="1785" y="865.95" width="7.1" height="12.35" fill="#EEA7CB"/>
<rect x="1792.1" y="865.95" width="7.1" height="12.35" fill="#963F98"/>
<rect x="1799.2" y="866.65" width="7.1" height="11.65" fill="#EEA7CB"/>
<rect x="1806.3" y="868.95" width="7.1" height="9.35" fill="#963F98"/>
<rect x="1813.4" y="873.45" width="7.1" height="4.85" fill="#D1D3D4"/>
<rect x="1820.5" y="874.15" width="7.1" height="4.15" fill="#D1D3D4"/>
<rect x="1827.6" y="874.65" width="7.1" height="3.65" fill="#EEA7CB"/>
<rect x="1834.7" y="876.15" width="7.1" height="2.15" fill="#D1D3D4"/>
<rect x="1841.8" y="877.15" width="7.1" height="1.15" fill="#D1D3D4"/>
<rect x="1848.9" y="877.15" width="7.1" height="1.15" fill="#D1D3D4"/>
<rect x="1856" y="877.15" width="7.1" height="1.15" fill="#D1D3D4"/>
<rect x="1863.1" y="877.45" width="7.1" height="0.85" fill="#D1D3D4"/>
<rect x="1870.2" y="877.45" width="7.1" height="0.85" fill="#D1D3D4"/>
</g>
<g stroke="#231F20" stroke-width="1.3">
<rect x="1635.9" y="899.3" width="6.94" height="212.95" fill="#963F98"/>
<rect x="1642.84" y="899.3" width="6.94" height="166.85" fill="#963F98"/>
<rect x="1649.78" y="899.3" width="6.94" height="136.45" fill="#D1D3D4"/>
<rect x="1656.72" y="899.3" width="6.94" height="91.95" fill="#EEA7CB"/>
<rect x="1663.66" y="899.3" width="6.94" height="83.95" fill="#EEA7CB"/>
<rect x="1670.6" y="899.3" width="6.94" height="81.65" fill="#EEA7CB"/>
<rect x="1677.54" y="899.3" width="6.94" height="77.05" fill="#963F98"/>
<rect x="1684.48" y="899.3" width="6.94" height="73.65" fill="#963F98"/>
<rect x="1691.42" y="899.3" width="6.94" height="67.95" fill="#963F98"/>
<rect x="1698.36" y="899.3" width="6.94" height="46.75" fill="#EEA7CB"/>
<rect x="1705.3" y="899.3" width="6.94" height="35.95" fill="#963F98"/>
<rect x="1712.24" y="899.3" width="6.94" height="35.35" fill="#EEA7CB"/>
<rect x="1719.18" y="899.3" width="6.94" height="27.95" fill="#EEA7CB"/>
<rect x="1726.12" y="899.3" width="6.94" height="20.65" fill="#963F98"/>
<rect x="1733.06" y="899.3" width="6.94" height="18.85" fill="#EEA7CB"/>
<rect x="1740" y="899.3" width="6.94" height="17.75" fill="#D1D3D4"/>
<rect x="1746.94" y="899.3" width="6.94" height="16.15" fill="#963F98"/>
<rect x="1753.88" y="899.3" width="6.94" height="14.25" fill="#EEA7CB"/>
<rect x="1760.82" y="899.3" width="6.94" height="13.15" fill="#EEA7CB"/>
<rect x="1767.76" y="899.3" width="6.94" height="12.05" fill="#EEA7CB"/>
<rect x="1774.7" y="899.3" width="6.94" height="11.55" fill="#963F98"/>
<rect x="1781.64" y="899.3" width="6.94" height="10.15" fill="#963F98"/>
<rect x="1788.58" y="899.3" width="6.94" height="8.55" fill="#EEA7CB"/>
<rect x="1795.52" y="899.3" width="6.94" height="6.95" fill="#EEA7CB"/>
<rect x="1802.46" y="899.3" width="6.94" height="4.05" fill="#D1D3D4"/>
<rect x="1809.4" y="899.3" width="6.94" height="2.85" fill="#D1D3D4"/>
<rect x="1816.34" y="899.3" width="6.94" height="2.05" fill="#D1D3D4"/>
<rect x="1823.28" y="899.3" width="6.94" height="1.85" fill="#D1D3D4"/>
<rect x="1830.22" y="899.3" width="6.94" height="1.55" fill="#D1D3D4"/>
<rect x="1837.16" y="899.3" width="6.94" height="1.55" fill="#D1D3D4"/>
</g>
<line x1="1134" y1="639.3" x2="1134" y2="880" stroke="#000" stroke-width="3.4" stroke-linecap="butt"/>
<line x1="1134" y1="898" x2="1134" y2="1134.8" stroke="#000" stroke-width="3.4" stroke-linecap="butt"/>
<line x1="1126" y1="878.6" x2="1493.5" y2="878.6" stroke="#000" stroke-width="3.4" stroke-linecap="butt"/>
<line x1="1126" y1="899.2" x2="1493.5" y2="899.2" stroke="#000" stroke-width="3.4" stroke-linecap="butt"/>
<line x1="1128.5" y1="640.8" x2="1134" y2="640.8" stroke="#000" stroke-width="3" stroke-linecap="butt"/>
<line x1="1126" y1="673.5" x2="1134" y2="673.5" stroke="#000" stroke-width="3" stroke-linecap="butt"/>
<line x1="1128.5" y1="707.6" x2="1134" y2="707.6" stroke="#000" stroke-width="3" stroke-linecap="butt"/>
<line x1="1126" y1="742.7" x2="1134" y2="742.7" stroke="#000" stroke-width="3" stroke-linecap="butt"/>
<line x1="1128.5" y1="776.3" x2="1134" y2="776.3" stroke="#000" stroke-width="3" stroke-linecap="butt"/>
<line x1="1126" y1="810" x2="1134" y2="810" stroke="#000" stroke-width="3" stroke-linecap="butt"/>
<line x1="1128.5" y1="844.3" x2="1134" y2="844.3" stroke="#000" stroke-width="3" stroke-linecap="butt"/>
<line x1="1128.5" y1="933" x2="1134" y2="933" stroke="#000" stroke-width="3" stroke-linecap="butt"/>
<line x1="1126" y1="967.4" x2="1134" y2="967.4" stroke="#000" stroke-width="3" stroke-linecap="butt"/>
<line x1="1128.5" y1="1001.5" x2="1134" y2="1001.5" stroke="#000" stroke-width="3" stroke-linecap="butt"/>
<line x1="1126" y1="1035.3" x2="1134" y2="1035.3" stroke="#000" stroke-width="3" stroke-linecap="butt"/>
<line x1="1128.5" y1="1069" x2="1134" y2="1069" stroke="#000" stroke-width="3" stroke-linecap="butt"/>
<line x1="1126" y1="1102.6" x2="1134" y2="1102.6" stroke="#000" stroke-width="3" stroke-linecap="butt"/>
<line x1="1128.5" y1="1133.2" x2="1134" y2="1133.2" stroke="#000" stroke-width="3" stroke-linecap="butt"/>
<text x="1071.17" y="684.6" font-size="31.5">300</text>
<text x="1071.17" y="753.8" font-size="31.5">200</text>
<text x="1071.17" y="821.1" font-size="31.5">100</text>
<text x="1071.17" y="978.5" font-size="31.5">100</text>
<text x="1071.17" y="1046.4" font-size="31.5">200</text>
<text x="1071.17" y="1113.7" font-size="31.5">300</text>
<line x1="1634.2" y1="639.3" x2="1634.2" y2="880" stroke="#000" stroke-width="3.4" stroke-linecap="butt"/>
<line x1="1634.2" y1="898" x2="1634.2" y2="1134.8" stroke="#000" stroke-width="3.4" stroke-linecap="butt"/>
<line x1="1626.2" y1="878.6" x2="1993.5" y2="878.6" stroke="#000" stroke-width="3.4" stroke-linecap="butt"/>
<line x1="1626.2" y1="899.2" x2="1993.5" y2="899.2" stroke="#000" stroke-width="3.4" stroke-linecap="butt"/>
<line x1="1628.7" y1="640.8" x2="1634.2" y2="640.8" stroke="#000" stroke-width="3" stroke-linecap="butt"/>
<line x1="1626.2" y1="673.5" x2="1634.2" y2="673.5" stroke="#000" stroke-width="3" stroke-linecap="butt"/>
<line x1="1628.7" y1="707.6" x2="1634.2" y2="707.6" stroke="#000" stroke-width="3" stroke-linecap="butt"/>
<line x1="1626.2" y1="742.7" x2="1634.2" y2="742.7" stroke="#000" stroke-width="3" stroke-linecap="butt"/>
<line x1="1628.7" y1="776.3" x2="1634.2" y2="776.3" stroke="#000" stroke-width="3" stroke-linecap="butt"/>
<line x1="1626.2" y1="810" x2="1634.2" y2="810" stroke="#000" stroke-width="3" stroke-linecap="butt"/>
<line x1="1628.7" y1="844.3" x2="1634.2" y2="844.3" stroke="#000" stroke-width="3" stroke-linecap="butt"/>
<line x1="1628.7" y1="933" x2="1634.2" y2="933" stroke="#000" stroke-width="3" stroke-linecap="butt"/>
<line x1="1626.2" y1="967.4" x2="1634.2" y2="967.4" stroke="#000" stroke-width="3" stroke-linecap="butt"/>
<line x1="1628.7" y1="1001.5" x2="1634.2" y2="1001.5" stroke="#000" stroke-width="3" stroke-linecap="butt"/>
<line x1="1626.2" y1="1035.3" x2="1634.2" y2="1035.3" stroke="#000" stroke-width="3" stroke-linecap="butt"/>
<line x1="1628.7" y1="1069" x2="1634.2" y2="1069" stroke="#000" stroke-width="3" stroke-linecap="butt"/>
<line x1="1626.2" y1="1102.6" x2="1634.2" y2="1102.6" stroke="#000" stroke-width="3" stroke-linecap="butt"/>
<line x1="1628.7" y1="1133.2" x2="1634.2" y2="1133.2" stroke="#000" stroke-width="3" stroke-linecap="butt"/>
<text x="1568.57" y="684.6" font-size="31.5">300</text>
<text x="1568.57" y="753.8" font-size="31.5">200</text>
<text x="1568.57" y="821.1" font-size="31.5">100</text>
<text x="1568.57" y="978.5" font-size="31.5">100</text>
<text x="1568.57" y="1046.4" font-size="31.5">200</text>
<text x="1568.57" y="1113.7" font-size="31.5">300</text>
<text x="1165.9" y="645.1" font-size="41" font-weight="bold" textLength="99.53" lengthAdjust="spacingAndGlyphs" fill="#231F20">Turtle</text>
<text x="1169.88" y="685.8" font-size="35.5" textLength="75.59" lengthAdjust="spacingAndGlyphs" fill="#231F20" stroke="#231F20" stroke-width="0.55">Base</text>
<text x="1169.95" y="727.1" font-size="34.4" textLength="172.53" lengthAdjust="spacingAndGlyphs">Haplotype 1</text>
<text x="1169.87" y="1047.8" font-size="34.4" textLength="177.6" lengthAdjust="spacingAndGlyphs">Haplotype 2</text>
<text x="1674.8" y="685.6" font-size="34.5" textLength="128.71" lengthAdjust="spacingAndGlyphs" fill="#231F20" stroke="#231F20" stroke-width="0.55">Cornetto</text>
<text x="1674.35" y="727.1" font-size="34.4" textLength="172.53" lengthAdjust="spacingAndGlyphs">Haplotype 1</text>
<text x="1674.27" y="1047.8" font-size="34.4" textLength="177.6" lengthAdjust="spacingAndGlyphs">Haplotype 2</text>
<text transform="rotate(-90)" x="-1049.09" y="1057" font-size="33" textLength="311.03" lengthAdjust="spacingAndGlyphs">Contig length (MBase)</text>
<path d="M1535.3 884.4H1565.2V874.6L1588.7 888.2L1565.2 902V892H1535.3Z" fill="#000"/>
<rect x="1178.3" y="1088.3" width="23.4" height="21.7" fill="#963F98" stroke="#231F20" stroke-width="1.6"/>
<rect x="1178.3" y="1124.8" width="23.4" height="21.2" fill="#EE949B" stroke="#3A3230" stroke-width="1.6"/>
<rect x="1178.3" y="1159.6" width="23.4" height="21.4" fill="#D1D3D4" stroke="#3A3230" stroke-width="1.6"/>
<text x="1214.24" y="1109.3" font-size="34.2" textLength="155.82" lengthAdjust="spacingAndGlyphs">2 telomere</text>
<text x="1213.37" y="1145.8" font-size="34.2" textLength="156.7" lengthAdjust="spacingAndGlyphs">1 telomere</text>
<text x="1214.61" y="1180.3" font-size="34.2" textLength="155.45" lengthAdjust="spacingAndGlyphs">0 telomere</text>
<text x="-0.34" y="34.6" font-size="66" font-weight="bold" textLength="34.94" lengthAdjust="spacingAndGlyphs">a</text>
<text x="-1.54" y="667.6" font-size="66" font-weight="bold" textLength="42.06" lengthAdjust="spacingAndGlyphs">b</text>
<text x="-0.41" y="955" font-size="66" font-weight="bold" textLength="38.65" lengthAdjust="spacingAndGlyphs">c</text>
<text x="80.54" y="33.75" font-size="37" textLength="823.36" lengthAdjust="spacingAndGlyphs">Genome assemblies for non-human vertebrates</text>
<text x="11.82" y="996.8" font-size="34.3" textLength="85.47" lengthAdjust="spacingAndGlyphs">Petrel</text>
<text x="-1.7" y="1053" font-size="34.3" textLength="100.56" lengthAdjust="spacingAndGlyphs">Cichlid</text>
<text x="7.82" y="1111.6" font-size="34.3" textLength="89.12" lengthAdjust="spacingAndGlyphs">Parrot</text>
<text x="13.86" y="1182.8" font-size="34.3" textLength="83.9" lengthAdjust="spacingAndGlyphs">Turtle</text>
<path d="M112.7 968.1H105.2V997.2H112.7" fill="none" stroke="#231F20" stroke-width="3.6"/>
<path d="M112.7 1022.6H105.2V1051.2H112.7" fill="none" stroke="#231F20" stroke-width="3.6"/>
<path d="M112.7 1070.9H105.2V1127.6H112.7" fill="none" stroke="#231F20" stroke-width="3.6"/>
<path d="M112.7 1145.9H105.2V1202.6H112.7" fill="none" stroke="#231F20" stroke-width="3.6"/>
<text x="121.86" y="977.7" font-size="32.5" textLength="72.12" lengthAdjust="spacingAndGlyphs">base</text>
<text x="120.86" y="1002.8" font-size="32.5" textLength="75.33" lengthAdjust="spacingAndGlyphs">corn.</text>
<text x="121.86" y="1031.8" font-size="32.5" textLength="72.12" lengthAdjust="spacingAndGlyphs">base</text>
<text x="120.86" y="1057.3" font-size="32.5" textLength="75.33" lengthAdjust="spacingAndGlyphs">corn.</text>
<text x="121.86" y="1091.6" font-size="32.5" textLength="72.12" lengthAdjust="spacingAndGlyphs">base</text>
<text x="120.86" y="1123" font-size="32.5" textLength="75.33" lengthAdjust="spacingAndGlyphs">corn.</text>
<text x="121.86" y="1167.6" font-size="32.5" textLength="72.12" lengthAdjust="spacingAndGlyphs">base</text>
<text x="120.86" y="1198.9" font-size="32.5" textLength="75.33" lengthAdjust="spacingAndGlyphs">corn.</text>
<rect x="207" y="966.1" width="21.2" height="13.6" fill="#5F6062"/>
<rect x="409" y="966.1" width="30.8" height="13.6" fill="#5F6062"/>
<rect x="207" y="984.2" width="86.9" height="13.6" fill="#BE1E2D"/>
<rect x="409" y="984.2" width="145.8" height="13.6" fill="#BE1E2D"/>
<rect x="207" y="1020.4" width="37.7" height="13.6" fill="#5F6062"/>
<rect x="409" y="1020.4" width="14.6" height="13.6" fill="#5F6062"/>
<rect x="207" y="1038" width="41.9" height="13.7" fill="#BE1E2D"/>
<rect x="409" y="1038" width="91.2" height="13.7" fill="#BE1E2D"/>
<rect x="207" y="1071.2" width="5.7" height="9.1" fill="#5F6062"/>
<rect x="409" y="1071.2" width="3.5" height="9.1" fill="#5F6062"/>
<rect x="207" y="1085.1" width="5.7" height="9.2" fill="#5F6062"/>
<rect x="409" y="1085.1" width="9.1" height="9.2" fill="#5F6062"/>
<rect x="207" y="1103.2" width="23.2" height="9.6" fill="#BE1E2D"/>
<rect x="409" y="1103.2" width="9.1" height="9.6" fill="#BE1E2D"/>
<rect x="207" y="1117.2" width="39.3" height="9.7" fill="#BE1E2D"/>
<rect x="409" y="1117.2" width="19.8" height="9.7" fill="#BE1E2D"/>
<rect x="207" y="1146" width="74.9" height="9.4" fill="#5F6062"/>
<rect x="409" y="1146" width="19.8" height="9.4" fill="#5F6062"/>
<rect x="207" y="1160" width="118.7" height="9.5" fill="#5F6062"/>
<rect x="409" y="1160" width="25.6" height="9.5" fill="#5F6062"/>
<rect x="207" y="1178.1" width="134.8" height="9.5" fill="#BE1E2D"/>
<rect x="409" y="1178.1" width="53" height="9.5" fill="#BE1E2D"/>
<rect x="207" y="1192.2" width="134.8" height="9.5" fill="#BE1E2D"/>
<rect x="409" y="1192.2" width="53" height="9.5" fill="#BE1E2D"/>
<line x1="205.2" y1="959" x2="205.2" y2="1211" stroke="#000" stroke-width="3.6" stroke-linecap="butt"/>
<line x1="203.4" y1="1209.2" x2="371.4" y2="1209.2" stroke="#000" stroke-width="3.6" stroke-linecap="butt"/>
<line x1="204.8" y1="1209.2" x2="204.8" y2="1216.4" stroke="#000" stroke-width="3.4" stroke-linecap="butt"/>
<line x1="259.7" y1="1209.2" x2="259.7" y2="1216.4" stroke="#000" stroke-width="3.4" stroke-linecap="butt"/>
<line x1="314" y1="1209.2" x2="314" y2="1216.4" stroke="#000" stroke-width="3.4" stroke-linecap="butt"/>
<line x1="368.8" y1="1209.2" x2="368.8" y2="1216.4" stroke="#000" stroke-width="3.4" stroke-linecap="butt"/>
<text x="196.99" y="1245.1" font-size="30.5" textLength="17.22" lengthAdjust="spacingAndGlyphs">0</text>
<text x="238.93" y="1245.1" font-size="30.5" textLength="35.31" lengthAdjust="spacingAndGlyphs">50</text>
<text x="284.04" y="1245.1" font-size="30.5" textLength="51.67" lengthAdjust="spacingAndGlyphs">100</text>
<text x="338.39" y="1245.1" font-size="30.5" textLength="50.59" lengthAdjust="spacingAndGlyphs">150</text>
<line x1="407.2" y1="959" x2="407.2" y2="1211" stroke="#000" stroke-width="3.6" stroke-linecap="butt"/>
<line x1="405.4" y1="1209.2" x2="572.3" y2="1209.2" stroke="#000" stroke-width="3.6" stroke-linecap="butt"/>
<line x1="406.9" y1="1209.2" x2="406.9" y2="1216.4" stroke="#000" stroke-width="3.4" stroke-linecap="butt"/>
<line x1="461.6" y1="1209.2" x2="461.6" y2="1216.4" stroke="#000" stroke-width="3.4" stroke-linecap="butt"/>
<line x1="516" y1="1209.2" x2="516" y2="1216.4" stroke="#000" stroke-width="3.4" stroke-linecap="butt"/>
<line x1="570.3" y1="1209.2" x2="570.3" y2="1216.4" stroke="#000" stroke-width="3.4" stroke-linecap="butt"/>
<text x="398.84" y="1245.1" font-size="30.5" textLength="17.92" lengthAdjust="spacingAndGlyphs">0</text>
<text x="438.67" y="1245.1" font-size="30.5" textLength="35.48" lengthAdjust="spacingAndGlyphs">10</text>
<text x="498.01" y="1245.1" font-size="30.5" textLength="35.23" lengthAdjust="spacingAndGlyphs">20</text>
<text x="549.61" y="1245.1" font-size="30.5" textLength="34.81" lengthAdjust="spacingAndGlyphs">30</text>
<text x="202.89" y="1283.6" font-size="30.5">N50 (Mbase)</text>
<text x="421.69" y="1283" font-size="30.5" textLength="135.62" lengthAdjust="spacingAndGlyphs">Complete</text>
<text x="437.77" y="1316" font-size="30.5" textLength="102.87" lengthAdjust="spacingAndGlyphs">chroms</text>
<rect x="625" y="966.1" width="318.8" height="13.6" fill="#2E3192"/>
<rect x="943.8" y="966.1" width="31.3" height="13.6" fill="#F7941D"/>
<rect x="975.1" y="966.1" width="1.7" height="13.6" fill="#FDD57E"/>
<rect x="976.8" y="966.1" width="5" height="13.6" fill="#A7A9AC"/>
<rect x="625" y="984.2" width="329.9" height="13.6" fill="#2E3192"/>
<rect x="954.9" y="984.2" width="24.6" height="13.6" fill="#F7941D"/>
<rect x="979.5" y="984.2" width="1.4" height="13.6" fill="#FDD57E"/>
<rect x="980.9" y="984.2" width="0.9" height="13.6" fill="#A7A9AC"/>
<rect x="625" y="1020.4" width="346" height="13.6" fill="#2E3192"/>
<rect x="971" y="1020.4" width="10.8" height="13.6" fill="#F7941D"/>
<rect x="625" y="1038" width="345.1" height="13.7" fill="#2E3192"/>
<rect x="970.1" y="1038" width="11.7" height="13.7" fill="#F7941D"/>
<rect x="625" y="1071.2" width="166" height="9.1" fill="#2E3192"/>
<rect x="791" y="1071.2" width="10.5" height="9.1" fill="#F7941D"/>
<rect x="801.5" y="1071.2" width="8.8" height="9.1" fill="#FDD57E"/>
<rect x="810.3" y="1071.2" width="171.5" height="9.1" fill="#A7A9AC"/>
<rect x="625" y="1085.1" width="168.9" height="9.2" fill="#2E3192"/>
<rect x="793.9" y="1085.1" width="10.2" height="9.2" fill="#F7941D"/>
<rect x="804.1" y="1085.1" width="10.6" height="9.2" fill="#FDD57E"/>
<rect x="814.7" y="1085.1" width="167.1" height="9.2" fill="#A7A9AC"/>
<rect x="625" y="1103.2" width="270" height="9.6" fill="#2E3192"/>
<rect x="895" y="1103.2" width="11.4" height="9.6" fill="#F7941D"/>
<rect x="906.4" y="1103.2" width="6.2" height="9.6" fill="#FDD57E"/>
<rect x="912.6" y="1103.2" width="69.2" height="9.6" fill="#A7A9AC"/>
<rect x="625" y="1117.2" width="284.6" height="9.7" fill="#2E3192"/>
<rect x="909.6" y="1117.2" width="7.3" height="9.7" fill="#F7941D"/>
<rect x="916.9" y="1117.2" width="3.5" height="9.7" fill="#FDD57E"/>
<rect x="920.4" y="1117.2" width="61.4" height="9.7" fill="#A7A9AC"/>
<rect x="625" y="1146" width="321.2" height="9.4" fill="#2E3192"/>
<rect x="946.2" y="1146" width="6.4" height="9.4" fill="#F7941D"/>
<rect x="952.6" y="1146" width="1.5" height="9.4" fill="#FDD57E"/>
<rect x="954.1" y="1146" width="27.7" height="9.4" fill="#A7A9AC"/>
<rect x="625" y="1160" width="334" height="9.5" fill="#2E3192"/>
<rect x="959" y="1160" width="4.7" height="9.5" fill="#F7941D"/>
<rect x="963.7" y="1160" width="3.8" height="9.5" fill="#FDD57E"/>
<rect x="967.5" y="1160" width="14.3" height="9.5" fill="#A7A9AC"/>
<rect x="625" y="1178.1" width="346" height="9.5" fill="#2E3192"/>
<rect x="971" y="1178.1" width="2" height="9.5" fill="#F7941D"/>
<rect x="973" y="1178.1" width="2.1" height="9.5" fill="#FDD57E"/>
<rect x="975.1" y="1178.1" width="6.7" height="9.5" fill="#A7A9AC"/>
<rect x="625" y="1192.2" width="352.4" height="9.5" fill="#2E3192"/>
<rect x="977.4" y="1192.2" width="4.4" height="9.5" fill="#F7941D"/>
<line x1="623.4" y1="959" x2="623.4" y2="1211" stroke="#000" stroke-width="3.6" stroke-linecap="butt"/>
<line x1="621.6" y1="1209.2" x2="983" y2="1209.2" stroke="#000" stroke-width="3.6" stroke-linecap="butt"/>
<line x1="623.2" y1="1209.2" x2="623.2" y2="1216.4" stroke="#000" stroke-width="3.4" stroke-linecap="butt"/>
<line x1="742.2" y1="1209.2" x2="742.2" y2="1216.4" stroke="#000" stroke-width="3.4" stroke-linecap="butt"/>
<line x1="861.4" y1="1209.2" x2="861.4" y2="1216.4" stroke="#000" stroke-width="3.4" stroke-linecap="butt"/>
<line x1="981.2" y1="1209.2" x2="981.2" y2="1216.4" stroke="#000" stroke-width="3.4" stroke-linecap="butt"/>
<text x="613.14" y="1244.1" font-size="30.5" textLength="34.77" lengthAdjust="spacingAndGlyphs">85</text>
<text x="954.78" y="1244.1" font-size="30.5" textLength="48.66" lengthAdjust="spacingAndGlyphs">100</text>
<text x="727.96" y="1255.8" font-size="30.5" textLength="166.65" lengthAdjust="spacingAndGlyphs">BUSCO (%)</text>
<rect x="629" y="1273.3" width="24.7" height="22.6" fill="#2E3192" stroke="#231F20" stroke-width="1.6"/>
<rect x="776" y="1273.3" width="24.7" height="22.6" fill="#F7941D" stroke="#231F20" stroke-width="1.6"/>
<rect x="894.1" y="1273.3" width="24.7" height="22.6" fill="#FDD57E" stroke="#231F20" stroke-width="1.6"/>
<text x="666.05" y="1293.8" font-size="31" textLength="95.72" lengthAdjust="spacingAndGlyphs">Comp.</text>
<text x="808.76" y="1293.8" font-size="31" textLength="67.87" lengthAdjust="spacingAndGlyphs">Dup.</text>
<text x="930.99" y="1293.8" font-size="31" textLength="74.21" lengthAdjust="spacingAndGlyphs">Frag.</text>
</svg></body></html>
